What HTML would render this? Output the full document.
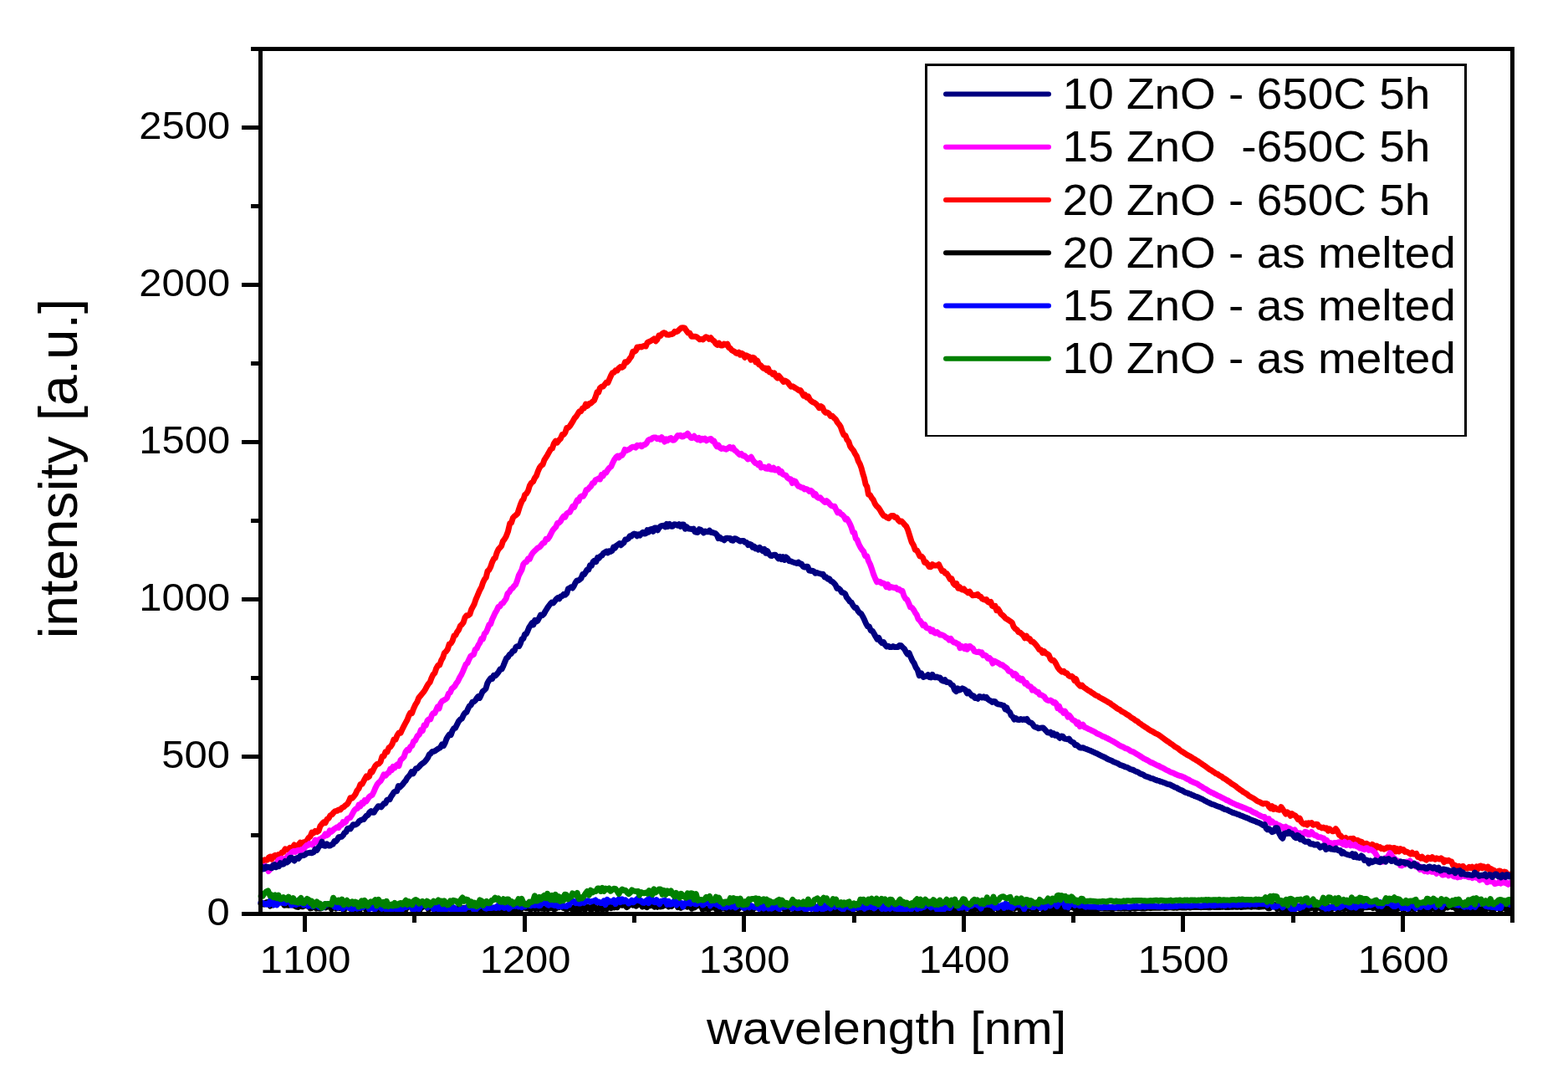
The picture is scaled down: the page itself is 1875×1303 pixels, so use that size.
<!DOCTYPE html>
<html><head><meta charset="utf-8"><title>Intensity vs wavelength</title>
<style>html,body{margin:0;padding:0;background:#fff;overflow:hidden}svg{display:block}</style>
</head><body>
<svg width="1875" height="1303" viewBox="0 0 1875 1303">
<rect x="0" y="0" width="1875" height="1303" fill="#fff"/>
<g fill="none" stroke-linejoin="round" stroke-linecap="round">
<polyline stroke="#ff0000" stroke-width="7.0" points="313.0,1028.3 314.7,1029.1 316.4,1027.8 318.1,1028.3 319.9,1027.8 321.6,1024.8 323.3,1024.0 325.0,1027.1 327.0,1023.5 329.0,1022.4 331.0,1024.8 333.0,1021.5 335.0,1022.1 337.0,1019.1 339.0,1018.4 341.0,1014.9 343.0,1015.6 345.0,1015.2 346.7,1013.3 348.4,1013.8 350.1,1013.1 351.9,1010.0 353.6,1012.6 355.3,1011.4 357.0,1009.7 359.0,1007.3 361.0,1009.7 363.0,1006.7 365.0,1006.6 367.0,1004.8 369.0,1001.5 371.0,1000.0 373.0,995.1 375.0,995.9 377.0,993.4 379.0,994.5 381.0,993.3 383.0,987.4 385.0,985.0 387.0,982.9 389.0,983.7 391.0,979.4 393.0,978.3 395.0,974.8 397.0,973.7 399.0,971.2 401.0,969.6 403.0,969.3 405.0,967.9 407.0,967.9 409.0,965.5 411.0,964.8 413.0,962.8 415.0,961.6 417.0,958.5 419.0,953.7 421.0,954.3 423.0,952.2 425.0,949.5 427.0,945.0 429.0,942.7 431.0,937.5 433.0,937.3 434.7,934.1 436.4,930.9 438.1,927.9 439.9,929.4 441.6,928.0 443.3,922.0 445.0,923.1 447.0,918.9 449.0,915.3 451.0,913.4 453.0,913.0 455.0,910.7 457.0,904.2 459.0,904.0 461.0,898.7 463.0,898.9 465.0,893.7 467.0,892.6 469.0,889.5 471.0,883.9 473.0,884.1 475.0,879.1 477.0,876.0 479.0,876.3 481.0,871.8 483.0,867.9 485.0,864.2 487.0,860.5 488.9,855.5 490.8,852.0 492.6,852.6 494.5,847.2 496.9,842.1 498.8,839.2 500.7,834.2 502.6,831.9 504.6,829.5 506.5,827.3 508.4,824.4 510.3,820.8 512.2,817.6 514.1,815.6 516.1,810.2 518.0,806.4 519.9,804.3 521.8,798.7 523.7,795.5 525.6,795.1 527.6,789.6 529.5,786.3 531.4,780.5 533.3,778.8 535.3,776.1 537.2,770.1 539.1,769.3 541.1,765.9 543.0,760.0 544.8,759.2 546.7,755.3 548.5,753.0 550.4,748.3 552.2,746.6 554.1,744.1 556.0,738.2 558.0,735.7 559.9,735.7 561.8,734.3 563.7,728.5 565.4,725.4 567.2,722.0 568.9,716.7 570.6,712.9 572.3,708.7 574.0,704.9 575.8,701.8 577.5,696.5 579.3,692.7 581.2,690.3 583.0,682.9 584.9,681.1 586.7,677.7 588.5,672.2 590.4,668.1 592.2,667.0 594.1,660.8 595.9,656.9 597.7,654.8 599.6,652.7 601.4,646.9 603.3,644.6 605.1,641.5 607.4,635.6 609.7,625.7 611.5,624.8 613.4,619.0 615.2,617.0 617.1,615.6 618.9,613.9 620.7,608.1 622.4,603.2 624.2,598.8 626.0,596.7 627.7,591.3 629.5,590.1 631.5,586.7 633.5,580.3 635.5,577.1 637.4,575.9 639.4,571.6 641.4,568.7 643.3,563.4 645.2,559.1 647.1,556.5 649.0,555.4 650.9,549.8 652.8,546.8 654.7,543.8 656.6,540.4 658.5,537.0 660.4,536.0 662.4,530.2 664.4,527.2 666.3,529.0 668.3,526.3 670.3,524.4 672.3,519.6 674.1,519.5 675.9,517.0 677.7,511.5 679.5,511.4 681.4,509.4 683.3,506.3 685.2,503.3 687.1,499.9 689.0,497.8 690.9,494.9 692.8,491.8 694.7,491.8 696.6,488.0 698.5,488.0 700.5,483.0 702.5,485.2 704.5,482.7 706.4,482.1 708.4,480.3 710.4,478.8 712.2,474.4 714.0,468.9 715.7,469.2 717.5,463.7 719.4,462.3 721.3,462.0 723.2,459.5 725.1,457.1 727.0,457.5 728.8,453.1 730.6,449.0 732.4,445.6 734.2,445.3 736.1,442.7 738.0,443.1 739.9,440.2 741.8,438.6 743.7,439.2 745.6,438.0 747.5,432.8 749.4,433.1 751.3,431.3 753.2,428.4 755.0,426.1 756.8,420.2 758.5,420.5 760.3,419.2 762.0,414.9 763.7,415.2 765.4,414.5 767.1,415.0 768.8,413.8 770.5,413.4 772.2,414.0 774.2,409.4 776.2,408.5 778.2,407.6 780.1,406.4 782.1,405.0 784.1,407.8 786.0,405.8 787.9,401.0 789.8,401.4 791.7,399.1 793.6,397.7 795.5,398.3 797.4,400.1 799.4,400.3 801.3,399.8 803.2,399.5 805.0,398.7 806.8,396.3 808.5,396.7 810.3,396.0 812.4,393.9 814.5,392.0 816.5,391.8 818.6,392.0 820.7,395.1 822.8,398.0 824.8,398.3 826.9,402.2 828.9,402.2 830.9,402.2 832.8,402.7 834.8,404.1 836.8,405.8 838.8,405.4 840.6,406.0 842.4,404.3 844.2,402.8 846.0,403.5 848.0,405.3 850.0,403.8 852.0,406.5 853.9,407.7 855.9,410.9 857.9,412.3 859.9,410.2 861.9,413.0 863.8,412.9 865.8,411.0 867.8,412.2 869.8,411.1 871.5,415.5 873.2,416.2 874.9,418.6 876.6,419.5 878.3,420.3 880.0,422.0 881.7,422.6 883.5,421.3 885.2,424.2 887.0,422.4 888.8,423.7 890.6,427.3 892.4,424.8 894.1,425.8 895.9,426.5 898.0,430.2 900.1,427.3 901.9,428.0 903.8,433.0 905.6,431.2 907.5,435.7 909.3,436.4 911.2,438.5 913.0,440.4 914.9,440.1 916.7,442.5 918.6,440.5 920.4,445.1 922.2,445.2 924.1,447.3 925.9,445.9 927.7,449.9 929.6,451.9 931.4,449.3 933.3,451.7 935.1,454.0 936.9,456.4 938.8,455.0 940.6,456.0 942.4,457.5 944.3,460.4 946.1,462.2 948.0,461.8 949.8,463.0 951.7,464.3 953.5,465.3 955.4,466.9 957.2,466.6 959.1,469.7 960.9,473.0 962.8,472.0 964.6,475.0 966.5,473.9 968.4,477.7 970.2,479.5 972.1,480.7 974.0,481.5 975.8,482.8 977.7,485.0 979.6,487.6 981.6,485.7 983.5,487.0 985.4,491.3 987.3,493.4 989.3,493.1 991.2,494.2 993.2,497.5 995.3,497.2 997.3,499.5 999.4,501.3 1001.4,505.0 1003.3,507.2 1005.2,510.2 1007.1,515.6 1009.1,520.1 1011.0,520.6 1012.9,525.7 1014.8,527.8 1016.7,533.6 1018.7,536.3 1020.6,538.7 1022.5,542.4 1024.4,545.4 1026.4,551.3 1028.3,554.7 1030.0,559.4 1031.7,565.9 1033.4,571.3 1035.1,578.9 1036.8,581.8 1038.5,591.2 1040.4,591.8 1042.4,595.2 1044.3,597.5 1046.2,602.0 1048.1,604.8 1050.1,606.6 1052.0,609.1 1054.2,613.0 1056.5,616.4 1058.7,617.2 1060.6,618.6 1062.6,619.6 1064.5,617.5 1066.4,616.4 1068.3,616.4 1070.3,618.6 1072.2,618.4 1074.1,621.8 1076.1,623.5 1078.0,623.0 1079.9,624.9 1081.8,627.4 1083.8,629.3 1085.7,633.7 1088.0,641.1 1090.2,648.1 1092.5,652.0 1094.4,657.4 1096.3,657.8 1098.1,661.0 1100.0,665.1 1101.9,665.0 1103.7,667.1 1105.6,672.4 1107.4,672.1 1109.3,674.5 1111.1,677.6 1113.0,677.8 1114.9,674.6 1116.8,675.9 1118.8,676.1 1120.7,676.1 1122.6,674.7 1124.5,678.7 1126.5,682.6 1128.4,682.4 1130.3,685.4 1132.3,685.8 1134.2,688.8 1136.1,692.4 1138.0,691.9 1140.0,697.3 1141.9,699.3 1143.8,697.6 1145.7,703.2 1147.4,701.6 1149.2,704.2 1150.9,705.0 1152.6,703.9 1154.3,706.4 1156.0,707.2 1157.8,708.7 1159.5,707.2 1161.4,710.1 1163.3,711.8 1165.2,711.3 1167.2,711.5 1169.1,710.4 1171.0,712.9 1172.7,713.2 1174.5,715.9 1176.2,716.7 1177.9,717.2 1179.6,716.5 1181.3,719.5 1183.1,720.5 1184.8,719.5 1186.5,724.3 1188.2,725.0 1190.0,724.4 1191.7,729.7 1193.4,727.9 1195.1,730.5 1196.9,733.9 1198.6,735.1 1200.5,736.9 1202.5,739.2 1204.4,740.3 1206.3,741.5 1208.3,742.9 1210.2,744.3 1212.1,749.3 1214.0,751.6 1216.0,752.7 1217.9,755.7 1219.8,756.2 1221.7,757.9 1223.6,759.5 1225.5,762.8 1227.5,760.3 1229.4,763.5 1231.3,763.5 1233.2,767.0 1235.1,767.1 1237.0,768.9 1239.0,771.1 1240.9,773.6 1242.8,776.6 1244.7,776.7 1246.6,780.4 1248.5,778.7 1250.5,780.9 1252.4,781.7 1254.3,783.3 1256.2,787.8 1257.9,789.6 1259.7,789.2 1261.4,791.3 1263.1,794.3 1264.8,797.7 1266.5,800.1 1268.3,801.8 1270.0,803.1 1271.9,802.3 1273.8,804.6 1275.8,804.8 1277.7,807.4 1279.6,808.8 1281.5,808.3 1283.2,809.9 1285.0,813.7 1286.7,811.8 1288.5,816.7 1290.2,818.5 1291.9,820.2 1293.7,819.1 1295.4,821.1 1297.1,822.3 1298.9,823.5 1300.6,824.9 1302.3,825.8 1304.0,826.7 1305.8,828.2 1307.5,829.1 1309.2,830.4 1311.0,831.5 1312.8,832.0 1314.6,833.5 1316.4,834.5 1318.1,835.4 1319.9,836.4 1321.7,837.4 1323.5,838.3 1325.3,839.5 1327.0,840.3 1328.8,841.8 1330.5,843.0 1332.2,844.1 1333.9,845.3 1335.6,846.7 1337.4,847.8 1339.1,848.5 1340.9,850.1 1342.7,851.1 1344.5,851.9 1346.3,853.3 1348.1,854.4 1349.9,855.4 1351.7,856.9 1353.5,858.3 1355.3,859.1 1357.0,860.6 1358.7,861.7 1360.4,862.5 1362.1,864.2 1363.9,865.2 1365.6,866.6 1367.3,867.7 1369.0,868.9 1370.7,869.8 1372.6,871.3 1374.5,872.5 1376.4,873.6 1378.3,874.5 1380.3,875.8 1382.2,876.8 1384.1,877.7 1386.0,878.8 1387.7,880.0 1389.4,881.3 1391.1,882.5 1392.8,883.9 1394.6,885.2 1396.3,886.3 1398.0,887.4 1399.7,888.8 1401.4,889.8 1403.3,891.2 1405.2,892.7 1407.1,893.8 1409.1,895.0 1411.0,896.9 1412.9,898.1 1414.8,899.2 1416.7,900.5 1418.4,901.6 1420.1,902.7 1421.8,903.5 1423.5,904.4 1425.3,905.5 1427.0,906.9 1428.7,907.5 1430.4,908.8 1432.1,909.6 1433.8,910.8 1435.5,912.0 1437.2,913.3 1438.9,914.4 1440.6,915.5 1442.3,916.7 1444.0,918.0 1445.7,919.4 1447.4,920.3 1449.1,921.3 1450.8,922.6 1452.5,923.6 1454.2,924.8 1456.0,925.4 1457.7,926.7 1459.4,927.7 1461.1,928.5 1462.8,930.1 1464.7,931.0 1466.6,932.2 1468.5,933.8 1470.4,934.9 1472.4,936.6 1474.3,937.7 1476.2,938.9 1478.1,940.2 1479.8,941.9 1481.5,942.8 1483.2,944.3 1484.9,945.3 1486.7,946.8 1488.4,947.6 1490.1,948.7 1491.8,949.9 1493.5,951.5 1495.4,952.5 1497.3,953.5 1499.2,954.5 1501.2,956.0 1503.1,957.4 1505.0,958.3 1506.9,959.0 1508.8,960.2 1510.6,960.9 1512.3,960.4 1514.1,960.4 1515.8,961.2 1517.6,964.5 1519.3,966.2 1521.1,963.8 1522.9,967.4 1524.7,965.5 1526.5,967.2 1528.3,967.9 1530.1,968.3 1531.9,964.6 1533.8,967.3 1535.7,970.1 1537.6,973.1 1539.5,970.9 1541.3,972.3 1543.1,975.3 1544.9,972.6 1546.7,974.3 1548.5,974.6 1550.3,976.6 1552.2,979.6 1554.2,978.2 1556.1,982.6 1558.0,984.5 1559.7,985.2 1561.5,984.2 1563.2,986.0 1565.0,983.8 1566.7,984.2 1568.5,983.6 1570.2,986.2 1572.0,985.6 1573.7,985.3 1575.5,985.5 1577.2,988.6 1579.0,988.8 1580.7,989.9 1582.5,989.1 1584.4,990.4 1586.2,989.8 1588.1,993.1 1590.0,990.9 1591.8,992.7 1593.6,993.8 1595.4,993.3 1597.2,990.6 1599.3,993.3 1601.4,998.1 1603.5,999.3 1605.6,1002.5 1607.4,1002.9 1609.2,1001.5 1611.0,1003.9 1612.8,1003.7 1614.6,1002.4 1616.4,1003.0 1618.2,1002.2 1620.0,1004.1 1621.7,1007.3 1623.4,1004.3 1625.1,1007.2 1626.9,1005.9 1628.6,1006.6 1630.3,1009.9 1632.0,1008.9 1633.8,1008.3 1635.6,1009.1 1637.4,1011.5 1639.2,1011.6 1641.0,1009.4 1642.8,1010.6 1644.6,1014.2 1646.4,1011.2 1648.2,1013.0 1650.0,1012.6 1651.7,1014.5 1653.4,1014.0 1655.1,1015.1 1656.9,1014.3 1658.6,1013.1 1660.3,1013.3 1662.0,1013.1 1663.8,1016.6 1665.6,1013.7 1667.4,1013.5 1669.2,1017.9 1671.0,1014.7 1672.8,1017.9 1674.6,1014.6 1676.4,1016.4 1678.2,1015.6 1680.0,1018.4 1681.7,1018.1 1683.4,1018.8 1685.1,1020.0 1686.9,1021.0 1688.6,1019.3 1690.3,1021.1 1692.0,1021.0 1693.7,1020.3 1695.4,1024.4 1697.1,1024.2 1698.9,1026.0 1700.6,1024.2 1702.3,1026.5 1704.0,1027.0 1705.7,1028.1 1707.5,1025.1 1709.2,1026.1 1710.9,1026.6 1712.7,1024.6 1714.4,1026.6 1716.1,1027.3 1717.9,1025.8 1719.6,1026.7 1721.4,1027.1 1723.2,1025.9 1725.0,1027.1 1726.8,1030.6 1728.6,1028.3 1730.4,1029.3 1732.2,1028.4 1734.0,1029.6 1735.7,1030.0 1737.4,1034.1 1739.1,1033.9 1740.9,1035.2 1742.6,1036.4 1744.3,1035.4 1746.0,1037.5 1747.8,1035.9 1749.6,1035.5 1751.4,1037.9 1753.2,1037.9 1755.0,1038.2 1756.8,1036.3 1758.6,1037.6 1760.4,1036.2 1762.2,1038.9 1764.0,1038.6 1765.7,1035.9 1767.4,1038.7 1769.1,1035.4 1770.9,1035.0 1772.6,1037.8 1774.3,1035.9 1776.0,1036.9 1777.7,1038.1 1779.4,1036.1 1781.1,1039.9 1782.9,1038.6 1784.6,1039.9 1786.3,1040.2 1788.0,1042.7 1789.8,1043.0 1791.6,1041.4 1793.4,1040.9 1795.2,1042.2 1797.0,1043.0 1798.8,1041.9 1800.6,1042.6 1802.4,1045.6 1804.2,1045.7 1806.0,1045.2"/>
<polyline stroke="#ff00ff" stroke-width="7.0" points="313.0,1036.5 315.0,1037.8 317.0,1035.3 319.0,1036.8 321.0,1041.5 322.8,1039.5 324.5,1037.6 326.2,1034.5 328.0,1034.3 329.8,1032.7 331.5,1031.1 333.2,1027.6 335.0,1027.3 336.8,1026.2 338.6,1026.8 340.5,1027.0 342.3,1025.9 344.1,1023.2 345.9,1021.9 347.7,1020.2 349.5,1018.3 351.4,1017.3 353.2,1018.4 355.0,1016.8 357.0,1016.3 359.0,1017.7 361.0,1015.3 363.0,1014.7 365.0,1012.4 366.7,1010.4 368.4,1010.5 370.1,1008.6 371.9,1009.1 373.6,1010.1 375.3,1007.5 377.0,1004.2 378.7,1006.2 380.4,1004.6 382.1,1003.2 383.9,1002.8 385.6,1001.0 387.3,1000.0 389.0,997.0 390.8,998.6 392.6,997.4 394.3,992.8 396.1,994.3 397.9,993.0 399.7,990.8 401.4,990.0 403.2,988.7 405.0,989.5 406.7,986.2 408.4,986.2 410.1,982.7 411.9,983.6 413.6,982.3 415.3,978.9 417.0,978.0 418.7,977.5 420.4,974.7 422.1,971.6 423.9,968.5 425.6,966.9 427.3,966.6 429.0,962.2 430.8,963.9 432.6,959.6 434.3,960.8 436.1,956.6 437.9,957.9 439.7,955.3 441.4,952.8 443.2,951.3 445.0,950.4 447.0,946.5 449.0,941.7 451.0,937.7 453.0,935.4 455.0,933.7 457.0,930.3 459.0,925.9 461.0,927.2 463.0,924.8 465.0,923.6 466.7,919.3 468.4,920.6 470.1,916.4 471.9,917.9 473.6,915.1 475.3,913.7 477.0,915.5 479.0,908.6 481.0,906.9 483.0,904.9 485.0,898.8 486.9,896.3 488.8,896.9 490.8,892.6 492.7,891.5 494.6,886.2 496.5,885.3 499.0,880.0 501.5,877.8 503.4,872.5 505.3,873.6 507.2,866.8 509.2,867.2 511.1,861.4 513.0,859.7 514.7,859.9 516.5,854.7 518.2,852.5 519.9,852.4 521.6,848.8 523.3,845.0 525.1,846.9 526.8,840.9 528.7,838.1 530.6,837.1 532.5,836.0 534.5,834.3 536.4,829.2 538.3,827.9 540.2,823.3 542.0,821.9 543.9,820.1 545.7,816.8 547.6,814.3 549.5,810.2 551.4,807.2 553.3,803.1 555.2,798.6 557.1,794.0 559.0,792.5 560.9,788.2 562.7,784.5 564.6,783.3 566.4,782.4 568.3,776.4 570.1,775.2 572.0,771.1 573.8,768.4 575.7,763.6 577.5,763.9 579.3,757.6 581.2,755.9 583.0,751.8 584.9,746.8 586.7,746.0 588.5,740.4 590.4,736.4 592.2,732.6 594.1,729.5 595.9,725.5 597.7,725.1 599.6,721.8 601.4,721.1 603.3,718.2 605.1,715.7 607.0,709.6 608.9,707.9 610.9,704.4 612.8,703.2 614.7,700.6 616.6,698.7 618.4,694.2 620.3,688.0 622.1,684.6 624.0,681.0 625.8,674.5 627.7,672.3 629.6,671.6 631.5,667.9 633.3,668.3 635.2,663.8 637.1,660.8 639.0,658.8 641.0,657.0 643.0,655.0 645.0,654.3 646.9,652.1 648.9,649.4 650.9,648.9 652.9,644.3 654.9,644.6 656.8,642.0 658.8,638.2 660.8,634.2 662.8,631.8 664.7,629.9 666.5,625.5 668.4,625.0 670.2,623.3 672.1,619.7 673.9,617.2 675.8,618.2 677.6,614.1 679.5,612.7 681.3,612.4 683.0,608.9 684.8,605.4 686.6,606.4 688.4,601.7 690.2,598.0 691.9,598.9 693.7,594.2 695.6,593.0 697.4,593.3 699.3,590.4 701.1,585.4 703.0,585.2 704.8,582.9 706.7,581.1 708.5,577.7 710.4,577.3 712.2,573.5 714.0,573.0 715.8,571.9 717.5,572.9 719.3,567.6 721.1,569.1 722.9,565.1 724.7,565.3 726.7,561.8 728.7,559.3 730.7,557.8 732.6,553.5 734.6,549.5 736.6,546.7 738.4,545.1 740.1,547.0 741.9,544.6 743.7,544.5 745.5,541.8 747.2,537.4 749.0,538.7 750.8,537.7 752.7,537.0 754.5,535.4 756.4,534.3 758.2,534.2 760.1,535.1 761.9,532.3 763.8,532.9 765.6,532.1 767.5,533.7 769.3,532.0 771.2,531.5 773.0,530.0 774.9,526.6 776.7,525.2 778.6,525.3 780.4,523.3 782.3,522.9 784.1,523.0 785.9,524.6 787.7,523.8 789.5,525.4 791.2,522.8 793.0,524.6 794.8,528.0 796.6,524.8 798.4,526.6 800.4,524.3 802.4,523.6 804.3,526.3 806.3,526.0 808.3,523.7 810.3,520.6 812.0,521.0 813.7,520.4 815.4,522.0 817.1,521.7 818.8,520.3 820.5,520.3 822.2,518.2 824.2,520.9 826.2,523.4 828.2,523.4 830.1,521.3 832.1,523.9 834.1,525.5 835.9,523.5 837.7,526.3 839.5,524.4 841.2,525.5 843.0,524.2 844.8,526.8 846.6,525.8 848.4,524.9 850.2,524.5 852.0,527.3 853.7,527.0 855.5,531.0 857.3,533.7 859.0,532.1 860.8,535.1 862.6,536.4 864.6,535.7 866.6,536.6 868.5,537.2 870.5,535.8 872.5,534.4 874.5,536.1 876.5,534.9 878.5,538.3 880.5,539.5 882.4,541.6 884.4,543.6 886.4,542.4 888.4,544.9 890.4,544.8 892.3,546.7 894.3,548.9 896.3,548.2 898.3,546.3 900.0,549.5 901.7,551.8 903.4,553.7 905.1,553.9 906.8,555.9 908.5,553.6 910.2,558.9 912.0,558.4 913.9,558.3 915.7,560.1 917.6,560.4 919.4,557.5 921.3,561.1 923.1,561.3 925.0,559.3 926.8,562.1 928.7,561.9 930.5,560.6 932.4,564.8 934.3,563.4 936.1,567.0 938.0,567.7 939.9,568.4 941.8,571.3 943.6,572.4 945.5,572.7 947.4,577.6 949.2,574.7 951.1,575.5 952.9,578.7 954.7,581.3 956.6,581.6 958.4,583.1 960.3,582.9 962.1,584.9 963.9,584.4 965.8,585.2 967.6,587.3 969.5,586.3 971.4,587.7 973.2,591.8 975.1,590.4 977.0,594.0 978.9,595.3 980.7,594.7 982.6,597.0 984.5,598.7 986.4,600.4 988.4,598.7 990.3,600.2 992.2,602.7 994.1,604.5 996.1,605.2 998.0,605.3 999.9,609.4 1001.7,612.9 1003.6,612.0 1005.5,614.4 1007.3,615.4 1009.2,617.4 1011.1,621.0 1012.9,620.2 1014.8,623.4 1016.5,626.6 1018.2,630.7 1019.9,636.3 1021.6,636.6 1023.3,643.8 1025.0,645.4 1026.9,650.3 1028.9,654.3 1030.8,657.1 1032.7,659.3 1034.6,664.7 1036.6,664.7 1038.5,670.5 1040.5,674.5 1042.5,680.2 1044.6,686.6 1046.6,691.5 1048.6,695.8 1050.5,695.1 1052.4,695.5 1054.2,697.3 1056.1,697.0 1058.0,698.0 1059.9,701.7 1061.7,698.8 1063.6,702.6 1065.5,701.5 1067.4,702.1 1069.4,702.7 1071.3,702.3 1073.2,704.7 1075.1,704.2 1077.1,706.1 1079.0,706.2 1080.9,712.2 1082.9,715.7 1084.8,717.0 1086.7,721.2 1088.6,725.8 1090.6,726.6 1092.5,728.9 1094.4,732.4 1096.3,735.1 1098.1,740.1 1100.0,741.7 1101.9,744.5 1103.8,747.7 1105.7,746.6 1107.7,750.5 1109.6,751.1 1111.5,751.4 1113.4,754.6 1115.2,753.1 1117.0,756.1 1118.8,757.0 1120.6,755.7 1122.3,757.2 1124.1,759.0 1125.9,758.7 1127.7,759.4 1129.5,760.5 1131.3,762.2 1133.2,762.8 1135.0,765.1 1136.9,763.5 1138.8,766.3 1140.6,767.9 1142.5,768.0 1144.3,769.5 1146.2,769.9 1148.0,774.7 1149.7,772.3 1151.5,773.2 1153.2,775.3 1154.9,772.5 1156.6,776.2 1158.3,772.8 1160.1,772.6 1161.8,774.3 1163.5,775.2 1165.2,778.6 1167.0,779.3 1168.7,779.6 1170.4,779.0 1172.1,780.4 1173.9,779.9 1175.6,783.4 1177.5,783.0 1179.4,784.1 1181.3,787.2 1183.3,786.6 1185.2,788.8 1187.1,793.1 1189.0,790.2 1190.9,791.2 1192.8,792.2 1194.8,793.2 1196.7,794.7 1198.6,794.7 1200.5,796.6 1202.5,797.8 1204.4,799.3 1206.3,802.4 1208.3,802.7 1210.2,804.4 1211.9,807.3 1213.7,805.4 1215.4,806.9 1217.1,811.1 1218.8,810.4 1220.5,813.1 1222.3,811.4 1224.0,814.3 1225.7,817.2 1227.5,816.4 1229.2,819.7 1230.9,820.4 1232.6,820.9 1234.3,825.0 1236.1,823.8 1237.8,825.6 1239.6,827.4 1241.5,827.2 1243.3,830.6 1245.2,830.7 1247.0,831.8 1248.8,832.8 1250.7,835.9 1252.5,837.1 1254.4,837.5 1256.2,837.0 1257.9,838.2 1259.7,840.2 1261.4,839.5 1263.1,841.2 1264.8,846.6 1266.5,844.2 1268.3,849.2 1270.0,849.5 1271.7,852.3 1273.5,850.3 1275.2,853.1 1277.0,857.0 1278.7,855.2 1280.4,857.4 1282.2,860.2 1283.9,861.2 1285.7,862.0 1287.6,865.2 1289.4,863.6 1291.3,868.4 1293.1,867.9 1294.9,866.1 1296.8,869.3 1298.6,869.8 1300.5,870.9 1302.3,871.8 1304.1,872.5 1306.0,873.6 1307.8,874.3 1309.7,875.3 1311.5,876.7 1313.3,877.5 1315.2,878.3 1317.0,879.3 1318.9,880.3 1320.7,880.8 1322.5,881.9 1324.2,882.6 1326.0,883.6 1327.7,884.5 1329.5,885.5 1331.2,886.4 1333.0,887.4 1334.7,888.5 1336.5,889.6 1338.2,890.7 1340.0,891.7 1341.9,892.5 1343.8,893.3 1345.7,894.6 1347.7,895.0 1349.6,896.0 1351.5,897.4 1353.4,898.2 1355.3,898.9 1357.0,900.0 1358.7,901.0 1360.4,902.1 1362.1,903.1 1363.9,904.1 1365.6,905.4 1367.3,906.5 1369.0,907.3 1370.7,908.3 1372.6,909.1 1374.5,910.4 1376.4,911.5 1378.3,912.0 1380.3,913.2 1382.2,914.2 1384.1,915.1 1386.0,915.7 1387.7,916.9 1389.4,917.5 1391.1,918.3 1392.8,919.4 1394.6,920.3 1396.3,921.1 1398.0,922.1 1399.7,922.9 1401.4,923.6 1403.3,924.1 1405.2,925.3 1407.1,926.1 1409.1,926.9 1411.0,927.5 1412.9,927.9 1414.8,928.8 1416.7,929.5 1418.4,930.7 1420.1,931.5 1421.8,932.1 1423.5,933.5 1425.3,934.3 1427.0,935.1 1428.7,935.7 1430.4,936.4 1432.1,937.2 1433.8,938.6 1435.5,939.6 1437.2,940.4 1438.9,941.8 1440.6,942.6 1442.3,943.5 1444.0,944.6 1445.7,945.8 1447.4,946.7 1449.1,947.6 1450.8,948.1 1452.5,949.4 1454.2,949.9 1456.0,951.2 1457.7,951.6 1459.4,952.5 1461.1,953.5 1462.8,954.2 1464.7,955.3 1466.6,956.5 1468.5,957.0 1470.4,958.3 1472.4,959.2 1474.3,960.3 1476.2,961.0 1478.1,962.0 1479.8,962.6 1481.5,963.3 1483.2,963.9 1484.9,964.5 1486.7,965.4 1488.4,965.9 1490.1,966.7 1491.8,967.5 1493.5,968.0 1495.4,968.8 1497.3,970.1 1499.2,971.2 1501.2,971.8 1503.1,973.0 1505.0,974.0 1506.9,975.1 1508.8,975.9 1510.5,976.7 1512.2,976.6 1513.9,980.3 1515.6,979.0 1517.4,978.8 1519.1,983.6 1520.8,981.6 1522.5,983.2 1524.2,984.2 1526.1,984.7 1528.0,987.5 1529.9,986.6 1531.8,987.8 1533.8,988.5 1535.7,991.1 1537.6,988.3 1539.5,991.6 1541.2,990.1 1542.9,990.7 1544.6,993.2 1546.3,992.7 1548.1,991.8 1549.8,994.7 1551.5,996.6 1553.2,995.9 1554.9,995.8 1556.8,997.1 1558.7,997.6 1560.6,994.3 1562.6,994.9 1564.5,997.8 1566.4,997.7 1568.3,994.5 1570.2,996.7 1572.0,998.7 1573.9,998.6 1575.7,1000.3 1577.6,1000.8 1579.4,1000.7 1581.2,1001.7 1582.9,1002.0 1584.7,1005.7 1586.5,1004.4 1588.2,1007.5 1590.0,1007.5 1591.8,1007.7 1593.6,1010.1 1595.4,1007.5 1597.2,1007.9 1599.0,1007.5 1600.8,1006.7 1602.6,1006.8 1604.4,1008.1 1606.2,1009.4 1608.0,1006.2 1609.8,1010.4 1611.6,1009.7 1613.4,1007.5 1615.2,1010.8 1617.0,1010.0 1618.8,1010.9 1620.6,1009.6 1622.4,1011.9 1624.2,1012.4 1626.0,1014.0 1627.8,1013.8 1629.6,1014.9 1631.4,1015.6 1633.2,1014.0 1635.0,1013.7 1636.8,1016.3 1638.6,1015.4 1640.4,1016.0 1642.2,1017.4 1644.0,1019.0 1646.1,1022.6 1648.2,1026.0 1650.3,1030.6 1652.4,1030.2 1654.3,1030.1 1656.2,1025.9 1658.2,1026.3 1660.1,1023.1 1662.0,1019.6 1663.8,1022.0 1665.6,1025.2 1667.4,1026.0 1669.2,1029.8 1671.0,1028.8 1672.8,1030.4 1674.6,1034.6 1676.4,1034.9 1678.3,1031.5 1680.2,1033.3 1682.2,1030.2 1684.1,1031.6 1686.0,1029.0 1687.7,1031.1 1689.4,1032.9 1691.1,1032.6 1692.9,1035.9 1694.6,1033.2 1696.3,1035.9 1698.0,1039.5 1699.8,1036.3 1701.6,1039.7 1703.4,1041.6 1705.2,1040.9 1707.0,1042.0 1708.8,1039.0 1710.6,1041.5 1712.4,1042.3 1714.2,1042.0 1716.0,1042.4 1717.8,1044.3 1719.6,1041.8 1721.4,1041.5 1723.2,1044.2 1725.0,1046.1 1726.8,1045.7 1728.6,1045.2 1730.4,1043.8 1732.2,1046.7 1734.0,1043.2 1735.8,1044.4 1737.6,1047.2 1739.4,1048.0 1741.2,1046.2 1743.0,1048.8 1744.8,1045.6 1746.6,1048.1 1748.4,1046.2 1750.2,1047.3 1752.0,1047.4 1753.7,1046.6 1755.4,1048.4 1757.1,1048.8 1758.9,1047.8 1760.6,1049.5 1762.3,1046.8 1764.0,1048.9 1765.8,1049.4 1767.6,1049.3 1769.4,1052.1 1771.2,1049.1 1773.0,1050.9 1774.8,1051.5 1776.6,1051.6 1778.4,1054.7 1780.2,1053.4 1782.0,1053.7 1783.8,1053.6 1785.6,1053.9 1787.4,1056.5 1789.2,1056.1 1791.0,1055.7 1792.8,1053.9 1794.6,1056.1 1796.4,1054.4 1798.2,1055.1 1799.9,1053.5 1801.7,1056.3 1803.5,1057.3 1805.2,1055.6 1807.0,1054.8"/>
<polyline stroke="#000080" stroke-width="7.0" points="313.0,1035.9 314.7,1038.9 316.4,1038.4 318.1,1036.0 319.9,1036.9 321.6,1036.6 323.3,1037.3 325.0,1037.8 326.7,1034.3 328.4,1033.6 330.1,1036.7 331.9,1034.5 333.6,1035.5 335.3,1031.7 337.0,1033.3 339.0,1033.0 341.0,1029.4 343.0,1031.0 345.0,1029.4 346.7,1025.4 348.4,1025.2 350.1,1027.4 351.9,1029.0 353.6,1026.4 355.3,1025.5 357.0,1026.3 359.0,1023.3 361.0,1022.9 363.0,1022.6 365.0,1021.6 367.0,1020.0 369.0,1019.6 371.0,1019.2 373.0,1019.8 375.0,1018.7 377.0,1015.1 379.0,1016.3 381.0,1012.6 383.0,1010.6 385.0,1006.2 387.0,1010.8 389.0,1011.2 391.0,1008.9 393.0,1010.9 394.7,1011.1 396.4,1009.7 398.1,1009.2 399.9,1005.5 401.6,1005.9 403.3,1003.8 405.0,1000.7 406.8,1000.5 408.5,1000.3 410.2,998.6 412.0,995.6 413.8,994.5 415.5,990.6 417.2,990.0 419.0,990.9 420.8,988.0 422.5,985.7 424.2,986.1 426.0,985.5 427.8,984.2 429.5,981.6 431.2,980.7 433.0,979.7 434.8,979.6 436.6,977.1 438.3,975.2 440.1,974.3 441.9,971.0 443.7,969.7 445.4,971.3 447.2,971.2 449.0,968.1 450.7,966.0 452.4,963.7 454.1,964.0 455.8,964.8 457.5,962.6 459.2,960.4 460.9,960.5 462.6,956.5 464.3,955.8 466.0,955.7 467.7,952.1 469.5,949.6 471.2,946.8 472.9,946.0 474.6,945.8 476.4,939.6 478.1,941.0 479.9,939.2 481.6,937.5 483.4,934.9 485.1,933.2 486.9,929.9 488.6,928.1 490.4,925.9 492.1,922.7 493.9,924.8 495.7,921.9 497.4,918.7 499.2,918.5 501.0,916.8 502.7,914.7 504.5,913.1 506.3,912.0 508.1,910.4 509.8,908.3 511.6,905.7 513.4,901.8 515.2,900.7 516.9,898.5 518.7,898.3 520.5,897.5 522.5,896.0 524.5,894.8 526.5,893.7 528.5,890.0 530.5,891.4 532.2,888.2 534.0,883.1 535.7,880.3 537.5,877.8 539.2,878.5 540.9,873.8 542.7,870.7 544.4,870.4 546.4,866.4 548.4,862.4 550.4,860.1 552.4,858.9 554.4,854.5 556.1,852.2 557.9,851.3 559.6,847.3 561.4,843.9 563.1,842.9 564.9,839.2 566.6,839.0 568.3,837.5 570.0,834.7 571.8,832.6 573.5,834.4 575.2,830.9 577.1,826.6 579.0,825.2 581.0,823.1 582.9,816.5 584.8,813.4 586.7,810.9 588.6,811.5 590.5,807.2 592.5,807.7 594.4,805.6 596.3,803.1 598.2,799.8 600.0,799.9 601.9,795.9 603.7,791.4 605.6,786.9 607.4,785.6 609.3,782.5 611.2,781.4 613.1,778.4 615.1,777.8 617.0,773.4 618.9,772.5 620.6,772.6 622.3,769.3 624.1,763.9 625.8,763.5 627.5,758.2 629.2,758.0 631.0,754.3 632.7,749.9 634.4,747.5 636.2,744.7 637.9,746.8 639.6,741.4 641.3,743.1 643.0,742.0 644.8,738.5 646.5,735.1 648.4,735.8 650.3,734.0 652.2,730.5 654.2,727.3 656.1,724.5 658.0,722.0 659.8,720.1 661.6,720.9 663.4,718.6 665.2,716.2 667.0,714.6 668.8,715.8 670.6,712.9 672.4,712.5 674.2,710.4 675.9,711.1 677.7,709.5 679.4,703.9 681.1,703.0 682.8,701.8 684.5,703.0 686.3,700.4 688.0,696.7 689.8,694.1 691.5,694.1 693.3,692.7 695.0,691.1 696.8,686.5 698.6,686.8 700.3,683.9 702.1,680.9 703.8,681.1 705.6,675.7 707.4,676.1 709.2,671.5 711.0,670.1 712.8,671.6 714.5,666.7 716.3,667.3 718.1,664.8 719.9,664.1 721.6,661.2 723.4,660.2 725.1,659.1 726.8,660.8 728.5,658.7 730.3,659.4 732.0,658.3 733.7,654.1 735.4,655.1 737.2,652.2 738.9,651.1 740.7,649.7 742.5,651.7 744.3,649.9 746.0,648.6 747.8,645.0 749.6,644.7 751.4,643.9 753.2,640.7 754.9,641.1 756.7,639.1 758.4,638.1 760.1,638.4 761.8,640.7 763.6,638.9 765.3,640.0 767.0,637.5 768.7,636.3 770.5,638.1 772.2,637.8 774.0,633.7 775.8,636.0 777.6,632.8 779.4,632.4 781.1,635.2 782.9,630.9 784.7,631.1 786.5,633.8 788.3,630.8 790.1,628.8 791.9,628.4 793.6,628.2 795.4,629.8 797.2,626.4 799.0,629.3 800.8,626.4 802.6,629.2 804.5,629.2 806.3,626.8 808.2,626.9 810.0,628.1 811.9,626.7 813.7,629.4 815.6,627.0 817.4,627.1 819.4,632.2 821.4,630.0 823.3,632.1 825.3,632.2 827.3,632.4 829.3,632.1 831.0,635.9 832.8,636.3 834.5,636.4 836.2,632.7 838.0,633.3 839.7,635.2 841.5,636.9 843.2,635.1 844.9,635.8 846.7,635.8 848.4,634.1 850.2,636.4 852.0,636.5 853.7,637.2 855.5,637.6 857.3,639.5 859.0,643.6 860.8,642.3 862.6,644.3 864.3,644.3 866.1,645.8 867.8,643.4 869.5,643.2 871.3,643.4 873.0,643.4 874.8,645.9 876.5,646.2 878.2,643.7 880.0,644.0 881.7,645.0 883.5,646.1 885.4,647.1 887.2,646.4 889.1,646.4 890.9,648.3 892.8,648.5 894.6,651.5 896.5,650.3 898.3,651.2 900.0,654.2 901.7,653.1 903.4,655.8 905.1,655.0 906.8,657.1 908.5,654.4 910.2,656.4 912.1,658.6 914.0,656.4 915.8,661.2 917.7,658.7 919.6,662.3 921.5,664.2 923.3,664.4 925.2,663.2 927.1,663.2 928.9,665.4 930.8,667.7 932.6,665.4 934.5,668.5 936.3,665.6 938.2,669.4 940.0,666.0 941.9,667.7 943.7,670.8 945.6,670.8 947.4,671.7 949.2,672.3 951.1,672.8 952.9,673.5 954.7,672.2 956.6,674.2 958.4,674.0 960.3,677.3 962.1,678.1 963.9,677.2 965.8,677.3 967.6,682.1 969.4,682.4 971.3,682.2 973.1,683.0 975.0,685.3 976.8,684.5 978.7,685.2 980.5,685.8 982.4,686.4 984.2,686.3 986.1,689.9 987.9,689.8 989.8,692.2 991.6,691.7 993.5,694.6 995.4,695.4 997.2,697.0 999.1,699.3 1001.0,703.5 1002.8,703.3 1004.7,705.0 1006.6,708.1 1008.6,708.6 1010.5,709.7 1012.4,714.2 1014.3,716.3 1016.3,719.1 1018.2,720.3 1020.1,723.8 1022.1,726.4 1024.0,726.6 1025.9,730.2 1027.8,732.5 1029.8,733.8 1031.7,737.0 1033.6,740.8 1035.6,745.5 1037.5,748.7 1039.4,749.0 1041.3,753.8 1043.3,754.3 1045.2,757.5 1047.1,761.0 1049.0,764.1 1050.8,762.4 1052.7,766.6 1054.6,768.6 1056.5,767.6 1058.3,770.7 1060.2,772.9 1062.1,772.3 1064.0,773.5 1066.0,773.5 1067.9,772.6 1069.8,773.5 1071.7,773.4 1073.7,773.5 1075.6,771.5 1077.5,771.7 1079.5,774.0 1081.4,775.7 1083.3,779.2 1085.2,782.0 1087.2,780.8 1089.1,785.5 1091.1,790.0 1093.1,792.8 1095.2,797.9 1097.2,800.7 1099.2,807.6 1101.7,804.9 1104.2,809.4 1106.0,808.8 1107.8,808.1 1109.6,806.6 1111.4,809.6 1113.1,809.9 1114.9,806.4 1116.7,809.4 1118.5,809.8 1120.3,809.1 1122.2,810.2 1124.1,810.1 1126.0,813.2 1128.0,814.3 1129.9,812.7 1131.8,815.5 1133.7,815.6 1135.7,816.2 1137.6,818.6 1139.5,819.5 1141.5,824.7 1143.4,826.6 1145.2,822.9 1147.1,825.0 1148.9,824.2 1150.8,822.9 1152.6,823.7 1154.5,825.0 1156.4,828.8 1158.3,827.0 1160.3,829.4 1162.2,832.0 1164.1,831.7 1165.8,834.4 1167.5,834.3 1169.3,835.3 1171.0,832.5 1172.7,832.9 1174.5,834.0 1176.2,832.8 1177.9,834.2 1179.6,833.4 1181.4,836.0 1183.1,837.2 1184.8,838.0 1186.5,839.4 1188.2,838.3 1190.0,838.7 1191.7,841.1 1193.4,841.8 1195.2,842.1 1196.9,842.4 1198.6,843.1 1200.3,843.5 1202.0,847.8 1203.8,845.9 1205.5,849.8 1207.4,851.2 1209.2,855.3 1211.1,856.7 1212.9,860.0 1214.8,858.6 1216.7,860.3 1218.6,860.6 1220.5,859.5 1222.5,860.4 1224.4,859.8 1226.3,860.6 1228.0,859.4 1229.8,862.5 1231.5,863.7 1233.2,864.1 1234.9,865.7 1236.6,868.5 1238.4,869.2 1240.1,869.5 1241.9,870.8 1243.7,870.2 1245.5,870.1 1247.3,869.9 1249.0,871.7 1250.8,873.7 1252.6,875.6 1254.4,876.0 1256.2,875.2 1258.0,878.2 1259.9,876.7 1261.7,879.1 1263.6,878.0 1265.4,880.3 1267.2,882.2 1269.1,880.0 1270.9,880.2 1272.8,883.0 1274.6,883.4 1276.4,883.7 1278.3,883.1 1280.1,885.7 1282.0,886.9 1283.8,887.7 1285.7,890.7 1287.5,890.5 1289.4,892.1 1291.2,893.8 1293.1,894.1 1294.9,893.7 1296.8,894.7 1298.6,895.3 1300.5,896.1 1302.3,896.8 1304.1,897.4 1306.0,898.3 1307.8,899.1 1309.7,900.0 1311.5,900.7 1313.2,901.6 1315.0,902.5 1316.8,903.5 1318.5,904.2 1320.2,905.0 1322.0,905.8 1323.8,907.0 1325.6,907.9 1327.4,908.6 1329.2,909.2 1331.0,910.5 1332.8,911.1 1334.6,911.9 1336.4,912.5 1338.2,913.7 1340.0,914.7 1341.9,915.2 1343.8,915.9 1345.7,916.9 1347.7,917.2 1349.6,918.3 1351.5,919.4 1353.4,920.0 1355.3,920.5 1357.0,921.6 1358.7,922.4 1360.4,922.9 1362.1,923.8 1363.9,925.1 1365.6,925.5 1367.3,926.2 1369.0,927.6 1370.7,928.2 1372.6,928.8 1374.5,929.6 1376.4,930.4 1378.3,930.7 1380.3,931.7 1382.2,932.4 1384.1,933.1 1386.0,933.4 1387.7,934.3 1389.4,934.6 1391.1,935.4 1392.8,935.8 1394.6,936.8 1396.3,937.4 1398.0,937.7 1399.7,938.2 1401.4,939.3 1403.3,940.1 1405.2,941.2 1407.1,941.6 1409.1,943.1 1411.0,943.9 1412.9,944.7 1414.8,945.7 1416.7,946.9 1418.4,947.6 1420.1,947.9 1421.8,948.8 1423.5,949.2 1425.3,950.4 1427.0,950.7 1428.7,951.7 1430.4,952.3 1432.1,952.9 1433.8,953.5 1435.5,954.5 1437.2,955.1 1438.9,956.0 1440.6,957.2 1442.3,957.8 1444.0,959.0 1445.7,959.5 1447.4,960.6 1449.1,961.3 1450.8,961.7 1452.5,962.3 1454.2,963.1 1456.0,963.9 1457.7,964.3 1459.4,965.0 1461.1,965.6 1462.8,966.7 1464.7,967.6 1466.6,967.9 1468.5,968.6 1470.4,969.8 1472.4,970.6 1474.3,971.5 1476.2,972.0 1478.1,972.6 1479.8,973.6 1481.5,973.8 1483.2,974.9 1484.9,975.2 1486.7,976.1 1488.4,976.8 1490.1,977.4 1491.8,978.0 1493.5,978.7 1495.4,979.9 1497.3,980.4 1499.2,981.2 1501.2,981.8 1503.1,982.9 1505.0,983.4 1506.9,984.3 1508.8,985.3 1510.6,986.6 1512.3,985.6 1514.1,990.3 1515.8,991.8 1517.6,990.8 1519.3,992.4 1521.1,994.6 1523.2,994.0 1525.2,989.7 1527.3,989.8 1529.6,996.1 1531.9,1000.4 1533.8,1002.2 1535.7,996.7 1537.6,995.8 1539.5,996.5 1541.2,994.5 1542.9,996.6 1544.6,996.2 1546.3,998.3 1548.1,1000.7 1549.8,1001.7 1551.5,998.5 1553.2,999.3 1554.9,1003.4 1556.9,1001.9 1559.0,1005.0 1561.0,1006.3 1562.8,1006.2 1564.7,1005.9 1566.5,1008.6 1568.4,1009.1 1570.2,1008.8 1571.9,1010.1 1573.6,1009.9 1575.3,1009.3 1577.0,1011.0 1578.8,1013.1 1580.5,1012.3 1582.2,1011.1 1583.9,1011.0 1585.6,1015.4 1587.7,1014.3 1589.8,1013.6 1591.9,1015.1 1594.0,1015.3 1595.8,1015.7 1597.5,1014.2 1599.3,1016.1 1601.0,1016.9 1602.8,1016.5 1604.6,1020.1 1606.3,1018.7 1608.1,1020.3 1609.8,1021.1 1611.6,1021.8 1613.4,1022.1 1615.2,1022.6 1617.0,1020.8 1618.8,1024.4 1620.6,1021.2 1622.4,1025.0 1624.2,1025.1 1626.0,1025.5 1627.8,1023.0 1629.7,1024.2 1631.5,1028.4 1633.3,1027.9 1635.1,1028.4 1637.0,1032.1 1638.8,1029.0 1640.7,1030.8 1642.5,1030.1 1644.4,1028.4 1646.3,1029.2 1648.1,1030.2 1650.0,1030.7 1651.8,1026.8 1653.5,1029.0 1655.2,1027.0 1657.0,1030.1 1658.8,1026.9 1660.5,1026.6 1662.2,1028.1 1664.0,1029.5 1665.8,1028.1 1667.7,1027.6 1669.5,1030.9 1671.3,1031.4 1673.2,1031.9 1675.0,1029.9 1676.8,1030.8 1678.7,1030.4 1680.5,1032.1 1682.3,1031.5 1684.2,1031.9 1686.0,1034.2 1687.7,1035.3 1689.4,1034.0 1691.1,1032.3 1692.8,1035.0 1694.5,1034.4 1696.2,1037.1 1697.9,1036.3 1699.6,1037.1 1701.3,1036.9 1703.0,1036.5 1704.7,1038.3 1706.5,1038.3 1708.2,1036.3 1709.9,1036.0 1711.6,1037.2 1713.4,1038.1 1715.1,1036.6 1716.8,1037.9 1718.5,1039.2 1720.3,1037.2 1722.0,1040.9 1723.8,1040.4 1725.6,1039.1 1727.5,1039.3 1729.3,1039.8 1731.1,1039.9 1732.9,1042.0 1734.7,1041.1 1736.5,1041.4 1738.4,1040.0 1740.2,1043.6 1742.0,1041.2 1743.8,1041.5 1745.6,1040.6 1747.4,1044.9 1749.2,1042.9 1751.0,1045.1 1752.8,1045.4 1754.6,1045.8 1756.4,1045.4 1758.2,1046.1 1760.0,1046.4 1761.8,1046.0 1763.5,1043.1 1765.2,1045.0 1767.0,1045.3 1768.8,1047.3 1770.5,1046.5 1772.2,1046.3 1774.0,1046.6 1775.8,1045.0 1777.5,1047.7 1779.2,1046.5 1781.0,1045.6 1782.7,1046.0 1784.5,1048.4 1786.2,1046.5 1787.9,1045.1 1789.7,1045.1 1791.4,1047.6 1793.1,1047.2 1794.9,1048.9 1796.6,1045.8 1798.3,1046.9 1800.1,1048.5 1801.8,1045.6 1803.5,1046.0 1805.3,1048.1 1807.0,1048.0"/>
<polyline stroke="#000000" stroke-width="7.0" points="312.0,1080.6 313.9,1079.5 315.7,1081.0 317.6,1079.3 319.4,1078.5 321.3,1080.2 323.1,1083.0 325.0,1082.0 326.9,1081.7 328.8,1078.4 330.6,1080.2 332.5,1078.6 334.4,1077.9 336.2,1077.5 338.1,1078.0 340.0,1082.3 341.8,1081.9 343.6,1082.1 345.5,1082.3 347.3,1079.0 349.1,1079.9 350.9,1082.1 352.7,1083.0 354.5,1084.0 356.4,1084.4 358.2,1079.9 360.0,1083.3 361.8,1083.8 363.6,1082.9 365.5,1081.0 367.3,1082.9 369.1,1080.7 370.9,1085.9 372.7,1085.5 374.5,1083.7 376.4,1082.3 378.2,1086.1 380.0,1084.1 381.8,1086.1 383.6,1086.1 385.5,1084.2 387.3,1083.7 389.1,1085.0 390.9,1084.1 392.7,1082.6 394.5,1083.6 396.4,1086.8 398.2,1082.3 400.0,1082.5 401.9,1086.0 403.8,1083.9 405.6,1085.5 407.5,1085.2 409.4,1084.4 411.2,1088.4 413.1,1083.6 415.0,1084.9 416.9,1083.7 418.8,1086.3 420.6,1084.2 422.5,1084.7 424.4,1087.1 426.2,1084.6 428.1,1086.0 430.0,1088.1 431.9,1083.3 433.8,1083.0 435.6,1084.0 437.5,1087.2 439.4,1086.2 441.2,1083.9 443.1,1084.5 445.0,1083.5 446.9,1085.2 448.8,1082.6 450.6,1086.5 452.5,1087.7 454.4,1088.0 456.2,1086.7 458.1,1088.0 460.0,1082.3 461.9,1084.0 463.8,1088.1 465.6,1087.0 467.5,1084.9 469.4,1088.2 471.2,1086.3 473.1,1087.5 475.0,1084.5 476.9,1083.9 478.8,1085.5 480.6,1083.7 482.5,1085.2 484.4,1088.8 486.2,1085.1 488.1,1083.2 490.0,1083.5 491.9,1084.2 493.8,1087.9 495.6,1085.4 497.5,1084.9 499.4,1083.8 501.2,1089.1 503.1,1085.7 505.0,1084.4 506.9,1083.6 508.8,1083.5 510.6,1084.2 512.5,1087.3 514.4,1084.1 516.2,1083.4 518.1,1086.1 520.0,1084.7 521.8,1089.2 523.6,1084.0 525.5,1086.5 527.3,1088.0 529.1,1085.9 530.9,1089.4 532.7,1086.4 534.5,1085.0 536.4,1086.1 538.2,1083.9 540.0,1086.2 541.8,1085.2 543.6,1089.1 545.5,1088.8 547.3,1086.9 549.1,1084.1 550.9,1085.5 552.7,1085.5 554.5,1085.3 556.4,1085.5 558.2,1089.4 560.0,1085.1 561.8,1084.5 563.6,1089.8 565.5,1087.6 567.3,1090.1 569.1,1086.6 570.9,1089.6 572.7,1088.1 574.5,1088.9 576.4,1088.7 578.2,1087.2 580.0,1084.8 581.8,1085.5 583.6,1089.4 585.5,1089.6 587.3,1089.7 589.1,1086.2 590.9,1088.1 592.7,1089.0 594.5,1088.1 596.4,1089.1 598.2,1087.4 600.0,1088.1 601.8,1088.2 603.6,1085.5 605.5,1089.3 607.3,1089.4 609.1,1084.0 610.9,1089.2 612.7,1089.0 614.5,1087.1 616.4,1083.2 618.2,1088.2 620.0,1083.5 621.8,1088.4 623.6,1086.4 625.5,1082.7 627.3,1083.2 629.1,1085.8 630.9,1085.3 632.7,1086.2 634.5,1087.2 636.4,1082.8 638.2,1081.4 640.0,1086.7 641.9,1081.3 643.8,1086.5 645.6,1082.0 647.5,1086.2 649.4,1086.1 651.2,1086.7 653.1,1084.7 655.0,1086.7 656.9,1082.7 658.8,1085.5 660.6,1083.5 662.5,1086.9 664.4,1086.2 666.2,1084.5 668.1,1084.8 670.0,1081.9 671.8,1082.0 673.6,1085.5 675.5,1085.0 677.3,1087.4 679.1,1086.0 680.9,1083.4 682.7,1084.8 684.5,1087.4 686.4,1086.1 688.2,1083.1 690.0,1088.2 691.9,1088.1 693.8,1083.6 695.6,1086.3 697.5,1085.2 699.4,1087.6 701.2,1084.7 703.1,1084.2 705.0,1085.6 706.9,1088.4 708.8,1083.1 710.6,1083.2 712.5,1086.2 714.4,1087.7 716.2,1085.4 718.1,1084.9 720.0,1087.3 721.8,1086.6 723.6,1082.1 725.5,1086.7 727.3,1082.3 729.1,1082.7 730.9,1085.6 732.7,1082.8 734.5,1084.8 736.4,1080.7 738.2,1084.7 740.0,1080.3 741.9,1080.1 743.8,1082.1 745.6,1081.1 747.5,1082.3 749.4,1084.5 751.2,1083.3 753.1,1079.0 755.0,1080.8 756.9,1082.2 758.8,1081.8 760.6,1083.1 762.5,1081.7 764.4,1079.2 766.2,1080.2 768.1,1083.8 770.0,1080.8 771.8,1083.3 773.6,1084.6 775.5,1082.5 777.3,1082.8 779.1,1082.4 780.9,1080.6 782.7,1084.2 784.5,1081.5 786.4,1084.2 788.2,1080.5 790.0,1083.9 791.9,1083.5 793.8,1082.6 795.6,1081.6 797.5,1079.9 799.4,1083.8 801.2,1081.4 803.1,1083.3 805.0,1080.2 806.9,1080.0 808.8,1080.5 810.6,1084.6 812.5,1080.9 814.4,1085.3 816.2,1082.2 818.1,1083.6 820.0,1082.3 821.8,1084.0 823.6,1080.9 825.5,1082.9 827.3,1086.2 829.1,1081.7 830.9,1084.7 832.7,1082.8 834.5,1082.7 836.4,1081.2 838.2,1081.2 840.0,1086.9 841.9,1086.2 843.8,1086.1 845.6,1086.2 847.5,1087.2 849.4,1082.5 851.2,1085.1 853.1,1084.6 855.0,1085.1 856.9,1087.4 858.8,1086.4 860.6,1087.7 862.5,1082.7 864.4,1085.9 866.2,1086.1 868.1,1086.6 870.0,1085.9 871.9,1087.2 873.8,1084.1 875.6,1087.9 877.5,1084.8 879.4,1086.0 881.2,1087.8 883.1,1086.6 885.0,1084.3 886.9,1083.9 888.8,1084.5 890.6,1086.3 892.5,1088.6 894.4,1088.0 896.2,1085.0 898.1,1085.1 900.0,1087.6 901.9,1084.4 903.7,1085.2 905.6,1082.8 907.4,1083.9 909.3,1086.0 911.1,1087.0 913.0,1086.5 914.8,1085.0 916.7,1088.6 918.5,1086.6 920.4,1083.8 922.2,1083.3 924.1,1088.8 925.9,1088.9 927.8,1088.5 929.6,1086.6 931.5,1084.9 933.3,1083.6 935.2,1084.6 937.0,1084.4 938.9,1088.7 940.7,1088.5 942.6,1087.8 944.4,1084.0 946.3,1084.6 948.1,1085.0 950.0,1088.9 951.9,1084.2 953.7,1087.9 955.6,1087.3 957.4,1086.5 959.3,1089.0 961.1,1084.8 963.0,1086.3 964.8,1084.1 966.7,1083.8 968.5,1083.4 970.4,1085.1 972.2,1083.9 974.1,1083.6 975.9,1089.2 977.8,1084.9 979.6,1088.5 981.5,1087.4 983.3,1087.6 985.2,1087.1 987.0,1088.9 988.9,1088.5 990.7,1087.5 992.6,1086.6 994.4,1087.4 996.3,1087.5 998.1,1086.5 1000.0,1086.2 1001.9,1084.1 1003.7,1088.3 1005.6,1086.1 1007.4,1083.6 1009.3,1084.2 1011.1,1088.4 1013.0,1084.7 1014.8,1085.5 1016.7,1087.3 1018.5,1088.4 1020.4,1085.2 1022.2,1085.5 1024.1,1085.7 1025.9,1083.4 1027.8,1088.5 1029.6,1083.3 1031.5,1089.0 1033.3,1084.1 1035.2,1084.1 1037.0,1088.3 1038.9,1088.1 1040.7,1084.6 1042.6,1086.5 1044.4,1086.1 1046.3,1087.5 1048.1,1084.3 1050.0,1088.2 1051.9,1089.2 1053.7,1087.4 1055.6,1088.7 1057.4,1088.8 1059.3,1085.5 1061.1,1088.3 1063.0,1088.2 1064.8,1086.7 1066.7,1083.8 1068.5,1086.9 1070.4,1088.7 1072.2,1085.0 1074.1,1087.1 1075.9,1088.6 1077.8,1086.8 1079.6,1083.4 1081.5,1087.0 1083.3,1084.7 1085.2,1088.3 1087.0,1087.2 1088.9,1085.0 1090.7,1088.6 1092.6,1087.0 1094.4,1085.2 1096.3,1088.2 1098.1,1088.5 1100.0,1088.6 1101.9,1088.5 1103.7,1087.2 1105.6,1087.4 1107.4,1086.8 1109.3,1086.4 1111.1,1089.1 1113.0,1085.3 1114.8,1083.7 1116.7,1087.5 1118.5,1086.2 1120.4,1086.5 1122.2,1086.8 1124.1,1084.7 1125.9,1084.4 1127.8,1083.6 1129.6,1087.9 1131.5,1088.7 1133.3,1087.4 1135.2,1083.9 1137.0,1089.1 1138.9,1088.2 1140.7,1086.3 1142.6,1083.2 1144.4,1088.3 1146.3,1086.9 1148.1,1086.9 1150.0,1083.3 1151.9,1087.6 1153.7,1083.4 1155.6,1086.1 1157.4,1084.1 1159.3,1085.4 1161.1,1088.5 1163.0,1087.7 1164.8,1088.1 1166.7,1085.0 1168.5,1085.5 1170.4,1086.8 1172.2,1083.4 1174.1,1085.7 1175.9,1089.0 1177.8,1087.7 1179.6,1088.4 1181.5,1085.0 1183.3,1087.3 1185.2,1087.9 1187.0,1087.4 1188.9,1085.8 1190.7,1084.2 1192.6,1083.3 1194.4,1088.5 1196.3,1088.8 1198.1,1084.9 1200.0,1087.7 1201.9,1085.6 1203.7,1087.0 1205.6,1088.3 1207.4,1085.1 1209.3,1086.9 1211.1,1084.7 1213.0,1086.3 1214.8,1083.4 1216.7,1084.8 1218.5,1084.9 1220.4,1088.7 1222.2,1084.0 1224.1,1087.7 1225.9,1083.7 1227.8,1089.1 1229.6,1084.2 1231.5,1083.8 1233.3,1084.5 1235.2,1088.8 1237.0,1087.2 1238.9,1088.5 1240.7,1086.2 1242.6,1083.9 1244.4,1085.2 1246.3,1085.9 1248.1,1089.1 1250.0,1084.2 1251.9,1084.7 1253.7,1088.3 1255.6,1083.9 1257.4,1089.1 1259.3,1085.0 1261.1,1086.7 1263.0,1087.2 1264.8,1088.7 1266.7,1083.8 1268.5,1088.4 1270.4,1084.4 1272.2,1087.6 1274.1,1083.5 1275.9,1088.0 1277.8,1084.5 1279.6,1084.6 1281.5,1083.6 1283.3,1085.3 1285.2,1085.4 1287.0,1089.3 1288.9,1087.1 1290.7,1085.6 1292.6,1089.4 1294.4,1084.5 1296.3,1086.2 1298.1,1086.9 1300.0,1086.9 1301.9,1086.6 1303.7,1086.9 1305.6,1086.0 1307.4,1086.8 1309.3,1086.6 1311.1,1086.5 1313.0,1086.7 1314.8,1086.0 1316.7,1086.1 1318.5,1086.0 1320.4,1086.3 1322.2,1086.3 1324.1,1086.3 1325.9,1086.1 1327.8,1086.4 1329.6,1086.5 1331.5,1086.4 1333.3,1085.8 1335.2,1085.8 1337.0,1085.9 1338.9,1085.9 1340.7,1086.2 1342.6,1085.8 1344.4,1086.2 1346.3,1085.9 1348.1,1085.9 1350.0,1086.2 1351.9,1086.4 1353.7,1085.6 1355.6,1085.8 1357.4,1086.3 1359.3,1085.6 1361.1,1085.4 1363.0,1085.5 1364.8,1086.0 1366.7,1085.9 1368.5,1086.0 1370.4,1085.6 1372.2,1085.1 1374.1,1085.3 1375.9,1085.7 1377.8,1085.3 1379.6,1085.1 1381.5,1085.3 1383.3,1085.3 1385.2,1085.2 1387.0,1085.2 1388.9,1084.9 1390.7,1084.8 1392.6,1085.4 1394.4,1085.3 1396.3,1085.0 1398.1,1084.7 1400.0,1084.8 1401.8,1085.0 1403.6,1085.3 1405.5,1084.9 1407.3,1085.3 1409.1,1084.9 1410.9,1084.6 1412.7,1084.9 1414.5,1084.9 1416.4,1084.9 1418.2,1085.0 1420.0,1084.3 1421.8,1084.7 1423.6,1085.0 1425.5,1084.4 1427.3,1084.2 1429.1,1084.4 1430.9,1084.4 1432.7,1084.5 1434.5,1084.4 1436.4,1084.7 1438.2,1084.2 1440.0,1084.4 1441.8,1084.6 1443.6,1084.5 1445.5,1084.8 1447.3,1084.8 1449.1,1084.2 1450.9,1084.2 1452.7,1084.4 1454.5,1084.4 1456.4,1084.2 1458.2,1084.6 1460.0,1084.0 1461.8,1084.2 1463.6,1083.9 1465.5,1084.5 1467.3,1084.2 1469.1,1084.6 1470.9,1083.8 1472.7,1084.3 1474.5,1084.2 1476.4,1083.6 1478.2,1084.3 1480.0,1084.3 1481.8,1083.6 1483.6,1084.4 1485.5,1084.2 1487.3,1084.0 1489.1,1084.0 1490.9,1083.7 1492.7,1083.5 1494.5,1083.9 1496.4,1084.2 1498.2,1083.6 1500.0,1083.8 1501.8,1083.6 1503.6,1084.0 1505.5,1084.2 1507.3,1084.1 1509.1,1083.6 1510.9,1083.7 1512.7,1080.8 1514.5,1083.9 1516.4,1085.8 1518.2,1085.8 1520.0,1081.1 1521.8,1083.4 1523.6,1081.4 1525.5,1083.6 1527.3,1086.6 1529.1,1083.0 1530.9,1086.5 1532.7,1087.2 1534.5,1086.5 1536.4,1082.9 1538.2,1087.3 1540.0,1087.5 1541.8,1088.1 1543.6,1082.2 1545.5,1082.3 1547.3,1084.2 1549.1,1085.6 1550.9,1085.2 1552.7,1083.3 1554.5,1086.7 1556.4,1087.0 1558.2,1086.9 1560.0,1086.3 1561.8,1086.5 1563.6,1087.3 1565.5,1083.6 1567.3,1085.8 1569.1,1084.0 1570.9,1083.8 1572.7,1087.8 1574.5,1085.1 1576.4,1085.2 1578.2,1084.9 1580.0,1086.7 1581.8,1083.9 1583.6,1087.0 1585.5,1083.6 1587.3,1088.9 1589.1,1084.1 1590.9,1087.8 1592.7,1086.5 1594.5,1085.7 1596.4,1085.0 1598.2,1085.4 1600.0,1087.8 1601.8,1086.3 1603.6,1086.4 1605.5,1084.6 1607.3,1086.9 1609.1,1084.1 1610.9,1086.0 1612.7,1086.9 1614.5,1086.3 1616.4,1086.5 1618.2,1086.4 1620.0,1084.1 1621.8,1088.7 1623.6,1087.0 1625.5,1087.2 1627.3,1088.6 1629.1,1085.5 1630.9,1084.8 1632.7,1084.6 1634.5,1084.7 1636.4,1084.5 1638.2,1084.6 1640.0,1084.0 1641.8,1085.6 1643.6,1084.5 1645.5,1084.9 1647.3,1086.7 1649.1,1084.6 1650.9,1087.9 1652.7,1087.5 1654.5,1084.7 1656.4,1087.7 1658.2,1083.8 1660.0,1083.3 1661.8,1088.7 1663.6,1082.9 1665.5,1082.7 1667.3,1087.9 1669.1,1082.7 1670.9,1086.6 1672.7,1086.0 1674.5,1084.0 1676.4,1084.2 1678.2,1088.5 1680.0,1085.1 1681.8,1084.2 1683.6,1085.3 1685.5,1087.1 1687.3,1084.4 1689.1,1083.2 1690.9,1087.4 1692.7,1083.3 1694.5,1083.0 1696.4,1082.7 1698.2,1088.7 1700.0,1085.3 1701.8,1087.1 1703.6,1086.0 1705.5,1088.5 1707.3,1084.8 1709.1,1084.8 1710.9,1086.8 1712.7,1082.7 1714.5,1084.9 1716.4,1087.3 1718.2,1086.1 1720.0,1085.6 1721.8,1088.3 1723.6,1085.3 1725.5,1087.1 1727.3,1085.1 1729.1,1083.2 1730.9,1085.0 1732.7,1084.0 1734.5,1082.9 1736.4,1084.4 1738.2,1083.5 1740.0,1085.4 1741.8,1087.1 1743.6,1087.2 1745.5,1088.0 1747.3,1084.6 1749.1,1086.7 1750.9,1088.0 1752.7,1085.1 1754.5,1088.2 1756.4,1083.3 1758.2,1088.2 1760.0,1088.0 1761.8,1088.6 1763.6,1087.7 1765.4,1087.0 1767.2,1085.3 1769.0,1087.0 1770.8,1088.0 1772.7,1086.2 1774.5,1086.4 1776.3,1088.2 1778.1,1084.4 1779.9,1084.7 1781.7,1082.9 1783.5,1088.0 1785.3,1086.5 1787.1,1086.7 1788.9,1084.1 1790.7,1083.8 1792.5,1085.6 1794.3,1088.0 1796.2,1084.8 1798.0,1085.2 1799.8,1085.2 1801.6,1087.8 1803.4,1083.4 1805.2,1087.9 1807.0,1085.7"/>
<polyline stroke="#0000ff" stroke-width="7.0" points="312.0,1078.6 314.0,1079.6 316.0,1080.1 318.0,1081.2 320.0,1079.9 321.9,1081.3 323.8,1075.3 325.6,1078.4 327.5,1081.8 329.4,1079.9 331.2,1081.8 333.1,1076.5 335.0,1079.1 336.9,1077.6 338.9,1079.6 340.8,1079.8 342.8,1076.0 344.7,1077.4 346.6,1077.9 348.6,1082.2 350.5,1081.2 352.3,1077.1 354.1,1081.4 355.9,1076.9 357.8,1080.2 359.6,1076.9 361.4,1076.0 363.2,1081.9 365.0,1077.4 366.8,1077.7 368.6,1083.1 370.5,1082.6 372.3,1078.8 374.1,1083.6 375.9,1081.0 377.7,1082.1 379.5,1079.1 381.4,1084.4 383.2,1082.9 385.0,1085.0 386.9,1084.7 388.8,1080.9 390.7,1081.5 392.6,1080.4 394.5,1080.5 396.5,1080.2 398.4,1082.0 400.3,1084.2 402.2,1080.4 404.1,1085.2 406.0,1083.1 407.9,1082.9 409.8,1086.3 411.7,1084.0 413.6,1082.8 415.5,1083.9 417.5,1085.4 419.4,1080.9 421.3,1087.1 423.2,1080.6 425.1,1085.5 427.0,1086.1 428.8,1080.5 430.6,1085.7 432.4,1082.9 434.2,1084.3 436.0,1080.4 437.9,1080.7 439.7,1081.6 441.5,1086.8 443.3,1081.7 445.1,1085.5 446.9,1086.6 448.7,1086.7 450.6,1082.8 452.6,1083.1 454.5,1084.4 456.4,1086.3 458.4,1082.0 460.3,1086.5 462.3,1087.1 464.2,1087.7 466.1,1082.3 468.1,1088.6 470.0,1083.0 471.9,1084.7 473.8,1086.6 475.7,1088.6 477.6,1084.7 479.5,1088.7 481.5,1086.1 483.4,1084.5 485.3,1084.6 487.2,1083.6 489.1,1082.9 491.0,1083.4 493.0,1086.6 495.0,1088.3 497.0,1082.1 499.0,1080.9 501.0,1086.8 503.0,1083.3 505.0,1081.9 507.0,1080.3 509.0,1083.1 511.0,1085.1 513.0,1083.0 515.0,1083.2 516.8,1080.9 518.6,1086.9 520.4,1081.1 522.2,1084.5 524.1,1087.0 525.9,1082.4 527.7,1086.7 529.5,1088.4 531.3,1086.3 533.1,1087.5 535.0,1082.9 536.8,1085.3 538.6,1083.4 540.4,1088.2 542.2,1084.6 544.1,1085.8 545.9,1089.6 547.7,1088.7 549.6,1089.4 551.5,1085.7 553.5,1085.7 555.4,1087.2 557.3,1085.3 559.2,1083.9 561.2,1084.5 563.1,1082.6 565.0,1084.0 566.8,1088.0 568.7,1087.7 570.5,1085.3 572.4,1084.2 574.2,1083.0 576.0,1081.2 577.9,1082.3 579.7,1085.6 581.6,1086.2 583.6,1082.8 585.5,1085.6 587.4,1085.6 589.4,1085.0 591.3,1084.8 593.2,1085.5 595.1,1082.8 597.1,1085.1 599.0,1082.2 600.9,1083.5 602.8,1085.4 604.8,1084.7 606.7,1081.9 608.6,1086.3 610.5,1084.2 612.4,1083.6 614.3,1079.6 616.2,1083.2 618.2,1081.1 620.1,1083.9 622.0,1082.3 623.8,1084.5 625.6,1083.0 627.4,1083.7 629.2,1080.4 631.1,1082.1 632.9,1082.4 634.7,1082.7 636.5,1079.2 638.3,1082.2 640.3,1082.3 642.2,1080.9 644.2,1082.7 646.1,1082.5 648.1,1079.3 650.1,1079.3 652.0,1076.7 654.0,1081.1 656.0,1082.2 657.9,1079.5 659.9,1081.4 661.8,1082.0 663.8,1082.5 665.7,1079.1 667.6,1083.7 669.6,1082.8 671.5,1083.8 673.5,1082.6 675.3,1083.3 677.2,1083.6 679.0,1082.0 680.8,1081.9 682.6,1076.5 684.5,1076.7 686.3,1077.9 688.3,1079.5 690.3,1076.8 692.3,1080.1 694.3,1079.9 696.3,1076.1 698.3,1079.2 700.3,1077.8 702.3,1076.8 704.3,1077.2 706.2,1078.3 708.2,1077.2 710.1,1077.1 712.1,1075.9 714.0,1078.7 716.0,1078.0 718.0,1079.6 720.0,1079.4 722.0,1077.0 724.0,1081.5 726.0,1075.4 728.0,1078.2 730.0,1077.3 732.0,1078.2 734.0,1076.0 736.0,1080.6 738.0,1077.3 740.0,1074.8 742.0,1078.5 744.0,1074.8 746.0,1077.6 748.0,1076.0 749.8,1077.6 751.7,1080.0 753.5,1079.0 755.4,1076.1 757.2,1078.7 759.1,1077.5 760.9,1075.5 762.8,1073.9 764.6,1076.9 766.5,1076.5 768.3,1079.1 770.2,1079.4 772.0,1077.2 773.9,1075.7 775.7,1079.6 777.6,1073.8 779.4,1074.7 781.3,1078.1 783.1,1078.6 785.0,1075.7 786.8,1079.0 788.6,1080.8 790.4,1077.3 792.2,1077.6 794.0,1076.2 795.9,1076.7 797.7,1081.3 799.5,1077.3 801.3,1081.2 803.1,1080.9 804.9,1078.8 806.7,1076.5 808.8,1082.0 810.9,1079.4 812.9,1079.6 815.0,1079.6 816.8,1083.9 818.6,1080.3 820.4,1078.7 822.2,1079.8 824.0,1077.2 825.8,1080.4 827.6,1078.9 829.4,1077.7 831.2,1080.8 833.0,1080.9 834.8,1075.5 836.6,1079.1 838.4,1077.4 840.2,1082.0 842.0,1081.1 843.9,1077.5 845.7,1077.8 847.5,1077.1 849.3,1082.8 851.1,1078.2 852.9,1080.4 854.7,1079.6 856.7,1081.5 858.6,1081.8 860.6,1083.5 862.6,1079.9 864.6,1084.9 866.5,1082.5 868.5,1084.7 870.3,1083.2 872.1,1082.7 874.0,1084.1 875.8,1083.4 877.6,1082.5 879.4,1084.9 881.2,1083.6 883.1,1079.7 884.9,1080.9 886.7,1082.1 888.6,1085.3 890.5,1085.3 892.4,1083.0 894.3,1079.5 896.2,1084.8 898.1,1082.6 900.0,1083.7 901.9,1084.7 903.8,1084.3 905.7,1083.4 907.6,1086.3 909.5,1082.8 911.3,1082.9 913.2,1086.0 915.1,1081.6 917.0,1082.3 918.9,1086.0 920.8,1080.8 922.6,1086.1 924.5,1085.1 926.4,1083.4 928.3,1082.4 930.2,1085.8 932.1,1086.7 933.9,1081.5 935.8,1083.8 937.7,1084.3 939.6,1083.9 941.6,1082.8 943.5,1081.5 945.4,1084.4 947.4,1085.9 949.3,1080.8 951.3,1081.8 953.2,1085.8 955.1,1085.6 957.1,1084.7 959.0,1080.3 960.9,1085.1 962.8,1086.9 964.6,1087.2 966.5,1085.2 968.4,1080.9 970.3,1086.4 972.2,1082.2 974.1,1085.2 975.9,1087.4 977.8,1085.9 979.7,1082.1 981.6,1083.2 983.5,1087.6 985.4,1082.4 987.2,1085.7 989.1,1084.4 991.0,1082.8 992.9,1085.9 994.9,1081.9 996.8,1082.3 998.7,1084.1 1000.7,1081.9 1002.6,1081.8 1004.6,1085.2 1006.5,1086.3 1008.4,1087.2 1010.4,1082.1 1012.3,1084.0 1014.2,1083.1 1016.2,1085.0 1018.1,1084.2 1020.1,1087.1 1022.0,1083.2 1024.0,1080.9 1025.9,1085.2 1027.9,1081.4 1029.8,1084.6 1031.8,1083.6 1033.7,1086.3 1035.6,1084.0 1037.5,1084.6 1039.4,1082.2 1041.3,1084.3 1043.2,1082.4 1045.1,1085.9 1047.0,1084.4 1048.9,1081.9 1050.8,1082.7 1052.7,1083.8 1054.6,1086.4 1056.5,1082.7 1058.4,1086.4 1060.3,1086.2 1062.2,1082.3 1064.2,1086.3 1066.1,1082.5 1068.1,1082.7 1070.0,1086.0 1072.0,1083.6 1073.9,1088.0 1075.9,1085.3 1077.8,1084.3 1079.8,1087.6 1081.7,1082.4 1083.6,1086.8 1085.5,1082.0 1087.4,1082.3 1089.3,1087.5 1091.2,1085.3 1093.1,1081.9 1095.0,1080.9 1097.0,1086.7 1099.0,1084.6 1101.0,1085.7 1103.0,1081.1 1105.0,1084.3 1107.0,1082.5 1109.0,1081.7 1111.0,1082.4 1113.0,1084.8 1115.0,1083.5 1117.0,1084.3 1119.0,1083.1 1121.0,1088.4 1122.8,1086.8 1124.7,1087.6 1126.5,1084.8 1128.3,1087.4 1130.2,1084.8 1132.0,1085.1 1133.8,1084.7 1135.7,1085.5 1137.5,1082.9 1139.3,1080.6 1141.2,1079.9 1143.0,1080.8 1144.9,1079.7 1146.8,1085.5 1148.6,1082.8 1150.5,1084.7 1152.4,1079.6 1154.3,1082.8 1156.2,1085.7 1158.1,1083.9 1159.9,1082.7 1161.8,1083.0 1163.7,1080.5 1165.6,1080.9 1167.5,1081.0 1169.4,1082.5 1171.2,1082.6 1173.1,1086.0 1175.0,1081.1 1176.8,1081.7 1178.6,1081.7 1180.4,1080.8 1182.2,1081.5 1184.0,1081.0 1185.8,1082.5 1187.7,1079.3 1189.5,1085.3 1191.3,1081.3 1193.1,1085.1 1194.9,1083.2 1196.7,1083.0 1198.7,1081.9 1200.7,1085.4 1202.7,1080.0 1204.7,1084.0 1206.7,1081.8 1208.7,1084.6 1210.7,1085.3 1212.7,1081.7 1214.7,1081.9 1216.7,1080.6 1218.7,1082.0 1220.7,1080.9 1222.7,1083.0 1224.7,1086.8 1226.7,1082.6 1228.7,1082.2 1230.6,1083.1 1232.6,1081.7 1234.5,1084.6 1236.4,1084.4 1238.4,1080.4 1240.3,1080.8 1242.3,1083.6 1244.2,1085.3 1246.1,1083.1 1248.1,1081.5 1250.0,1085.0 1252.0,1078.2 1254.0,1078.3 1256.0,1082.9 1258.0,1080.2 1260.0,1077.5 1262.0,1080.6 1264.0,1083.4 1266.0,1079.9 1267.9,1079.1 1269.9,1077.7 1271.8,1077.8 1273.7,1083.8 1275.7,1081.3 1277.6,1084.7 1279.6,1079.0 1281.5,1080.6 1283.4,1079.6 1285.4,1082.3 1287.3,1080.3 1289.1,1081.7 1290.9,1082.8 1292.8,1082.2 1294.6,1080.6 1296.4,1083.2 1298.2,1084.2 1300.0,1083.5 1301.8,1083.9 1303.7,1083.9 1305.5,1084.1 1307.3,1083.7 1309.1,1084.0 1310.9,1083.9 1312.7,1084.4 1314.5,1084.9 1316.4,1084.6 1318.2,1085.0 1320.0,1084.4 1321.8,1084.2 1323.6,1084.7 1325.5,1084.6 1327.3,1084.6 1329.1,1084.4 1330.9,1084.6 1332.7,1084.7 1334.5,1084.9 1336.4,1084.2 1338.2,1084.3 1340.0,1084.7 1341.8,1084.0 1343.6,1083.9 1345.5,1084.1 1347.3,1083.8 1349.1,1084.5 1350.9,1084.5 1352.7,1083.9 1354.5,1083.7 1356.4,1083.6 1358.2,1083.8 1360.0,1083.6 1361.8,1083.9 1363.6,1084.0 1365.5,1083.6 1367.3,1083.4 1369.1,1084.0 1370.9,1083.3 1372.7,1083.5 1374.5,1083.5 1376.4,1083.6 1378.2,1083.3 1380.0,1083.6 1381.8,1083.4 1383.6,1083.8 1385.5,1083.6 1387.3,1083.9 1389.1,1083.6 1390.9,1083.7 1392.7,1083.5 1394.5,1083.3 1396.4,1083.7 1398.2,1083.5 1400.0,1083.8 1401.8,1083.5 1403.6,1083.4 1405.5,1083.0 1407.3,1083.5 1409.1,1083.0 1410.9,1082.7 1412.7,1082.6 1414.5,1082.7 1416.4,1082.7 1418.2,1083.1 1420.0,1082.7 1421.8,1082.4 1423.6,1083.1 1425.5,1082.8 1427.3,1082.3 1429.1,1082.3 1430.9,1082.3 1432.7,1082.5 1434.5,1083.0 1436.4,1083.0 1438.2,1082.7 1440.0,1082.2 1441.8,1082.4 1443.6,1082.3 1445.5,1082.2 1447.3,1081.8 1449.1,1082.4 1450.9,1082.6 1452.7,1082.4 1454.5,1081.7 1456.4,1082.1 1458.2,1081.7 1460.0,1082.2 1461.8,1081.9 1463.6,1082.4 1465.5,1082.2 1467.3,1081.4 1469.1,1081.6 1470.9,1082.2 1472.7,1081.6 1474.5,1081.6 1476.4,1081.5 1478.2,1081.8 1480.0,1081.9 1481.8,1081.5 1483.7,1081.9 1485.5,1081.4 1487.4,1080.9 1489.2,1081.5 1491.1,1081.1 1493.0,1080.6 1494.8,1081.5 1496.7,1080.5 1498.5,1081.0 1500.3,1080.8 1502.2,1081.2 1504.0,1080.6 1505.9,1080.4 1507.8,1080.4 1509.6,1080.2 1511.5,1080.5 1513.3,1079.4 1515.2,1082.1 1517.0,1078.5 1518.9,1079.5 1520.7,1079.0 1522.6,1084.2 1524.4,1083.5 1526.3,1083.8 1528.1,1082.4 1530.0,1081.1 1531.9,1079.7 1533.8,1084.8 1535.7,1082.8 1537.6,1080.1 1539.4,1081.4 1541.3,1081.3 1543.2,1085.8 1545.1,1087.5 1547.0,1083.1 1548.9,1086.6 1550.7,1082.8 1552.6,1084.7 1554.4,1085.4 1556.3,1083.2 1558.1,1083.9 1560.0,1080.5 1561.9,1078.1 1563.9,1081.7 1565.8,1082.3 1567.7,1079.7 1569.7,1081.3 1571.6,1080.9 1573.6,1079.1 1575.5,1081.2 1577.4,1081.8 1579.4,1082.6 1581.3,1084.3 1583.2,1082.3 1585.1,1086.3 1587.0,1085.3 1589.0,1086.1 1590.9,1084.6 1592.8,1084.5 1594.7,1083.7 1596.6,1085.5 1598.5,1082.6 1600.4,1084.3 1602.3,1084.9 1604.3,1083.9 1606.2,1082.4 1608.1,1081.1 1610.0,1081.2 1611.9,1082.7 1613.8,1083.9 1615.7,1084.8 1617.6,1084.2 1619.5,1081.1 1621.4,1085.0 1623.3,1080.2 1625.2,1082.9 1627.1,1078.2 1629.0,1082.5 1630.9,1081.6 1632.8,1083.2 1634.7,1082.5 1636.6,1081.1 1638.6,1082.2 1640.5,1081.6 1642.4,1080.7 1644.4,1078.0 1646.3,1080.2 1648.3,1082.8 1650.2,1078.4 1652.1,1083.4 1654.1,1080.6 1656.0,1079.6 1658.0,1077.0 1660.0,1079.7 1662.0,1078.4 1664.0,1081.7 1666.0,1083.4 1668.0,1083.6 1670.1,1082.4 1672.2,1081.7 1674.4,1080.7 1676.5,1085.5 1678.3,1084.4 1680.2,1085.4 1682.0,1082.9 1683.9,1086.3 1685.7,1081.6 1687.5,1082.1 1689.4,1081.7 1691.2,1084.0 1693.0,1085.7 1694.9,1080.6 1696.7,1083.6 1698.6,1084.4 1700.4,1080.6 1702.2,1079.4 1704.1,1082.6 1705.9,1084.3 1707.8,1084.5 1709.6,1083.4 1711.4,1081.1 1713.2,1081.1 1715.0,1081.7 1716.8,1084.2 1718.6,1080.0 1720.4,1079.7 1722.2,1081.8 1724.0,1084.2 1725.9,1078.8 1727.7,1077.6 1729.5,1078.1 1731.3,1081.0 1733.1,1081.2 1734.9,1078.3 1736.7,1078.2 1738.5,1080.8 1740.3,1081.3 1742.1,1081.8 1743.9,1082.2 1745.7,1077.7 1747.5,1080.8 1749.3,1083.3 1751.1,1084.2 1753.0,1080.0 1754.8,1083.8 1756.6,1082.5 1758.4,1084.5 1760.2,1079.9 1762.0,1083.2 1763.8,1084.4 1765.6,1082.0 1767.4,1079.6 1769.2,1080.2 1771.0,1080.0 1772.8,1079.5 1774.7,1079.9 1776.5,1083.1 1778.3,1079.6 1780.1,1084.1 1781.9,1083.9 1783.7,1084.5 1785.5,1084.4 1787.3,1083.7 1789.2,1085.2 1791.0,1085.4 1792.8,1083.2 1794.6,1085.5 1796.4,1079.6 1798.5,1079.5 1800.6,1079.1 1802.8,1080.0 1804.9,1081.0 1807.0,1081.8"/>
<polyline stroke="#008000" stroke-width="7.0" points="312.0,1071.2 314.0,1071.2 316.0,1068.2 318.0,1066.1 320.5,1064.8 323.0,1070.8 325.0,1069.8 327.0,1072.6 329.0,1070.0 331.0,1073.7 333.0,1070.1 335.0,1074.8 337.0,1074.7 339.0,1072.6 341.0,1074.0 343.0,1075.6 345.0,1072.1 347.0,1075.4 348.8,1077.7 350.7,1073.6 352.5,1078.2 354.3,1077.5 356.2,1079.0 358.0,1075.2 359.8,1073.5 361.7,1079.4 363.5,1079.7 365.3,1077.1 367.2,1074.5 369.0,1075.6 371.0,1079.5 372.9,1077.3 374.9,1083.0 376.9,1080.6 378.8,1077.9 380.8,1082.0 382.7,1080.1 384.7,1085.2 386.7,1084.3 388.6,1080.5 390.6,1080.8 392.6,1080.6 394.6,1080.8 396.5,1081.5 398.5,1073.2 400.6,1076.2 402.7,1078.4 404.8,1076.3 406.8,1078.8 408.9,1075.1 411.0,1081.7 413.0,1079.2 415.0,1076.3 417.0,1081.0 419.0,1078.5 421.0,1077.9 423.0,1080.5 425.0,1078.1 427.0,1079.0 428.8,1084.0 430.6,1082.5 432.4,1076.8 434.2,1082.7 436.0,1076.4 437.9,1078.7 439.7,1083.0 441.5,1080.5 443.3,1077.8 445.1,1078.2 446.9,1078.0 448.7,1075.7 450.6,1082.8 452.6,1075.3 454.5,1078.4 456.4,1081.1 458.4,1078.4 460.3,1083.1 462.3,1077.4 464.2,1083.3 466.1,1082.7 468.1,1081.1 470.0,1082.9 471.9,1079.4 473.8,1082.4 475.7,1082.1 477.6,1079.8 479.5,1079.4 481.5,1081.3 483.4,1078.9 485.3,1076.3 487.2,1081.5 489.1,1077.7 491.0,1079.4 493.0,1081.7 495.0,1076.8 497.0,1075.6 499.0,1076.4 501.0,1080.1 503.0,1078.2 505.0,1077.4 507.0,1078.9 508.9,1082.7 510.8,1077.2 512.7,1078.4 514.6,1082.1 516.5,1079.9 518.4,1077.1 520.3,1078.7 522.2,1078.6 524.1,1075.9 526.0,1077.7 527.8,1077.0 529.6,1080.9 531.4,1076.9 533.2,1079.5 535.0,1081.9 536.8,1081.4 538.6,1076.9 540.4,1078.6 542.2,1076.2 544.0,1076.8 545.8,1077.4 547.6,1079.7 549.4,1080.7 551.2,1075.4 553.0,1073.0 555.1,1077.4 557.3,1075.1 559.4,1075.6 561.6,1082.4 563.7,1077.9 565.7,1082.4 567.7,1079.3 569.7,1083.6 571.7,1082.6 573.7,1075.9 575.7,1076.7 577.7,1082.4 579.7,1079.4 581.8,1077.4 583.8,1079.8 585.9,1079.5 587.9,1076.4 590.0,1075.8 592.0,1073.1 594.0,1075.4 596.0,1073.9 598.0,1078.1 600.0,1078.2 602.0,1074.7 604.0,1078.9 606.0,1074.9 608.0,1074.9 610.0,1079.1 612.0,1077.6 614.0,1081.0 616.0,1078.8 618.0,1079.3 620.0,1074.7 622.0,1080.3 623.8,1074.4 625.7,1078.8 627.5,1081.3 629.3,1081.5 631.2,1081.5 633.0,1078.1 635.1,1078.5 637.3,1077.6 639.4,1070.8 641.3,1077.0 643.2,1076.5 645.1,1072.5 647.0,1075.0 648.9,1072.1 650.8,1070.4 652.7,1073.7 654.6,1068.3 656.5,1073.9 658.4,1075.6 660.4,1070.4 662.3,1076.0 664.2,1069.4 666.1,1075.9 668.1,1071.6 670.0,1077.4 671.8,1072.9 673.6,1076.6 675.4,1069.2 677.2,1069.4 679.1,1075.0 680.9,1073.3 682.7,1072.3 684.5,1068.0 686.3,1068.9 688.3,1070.2 690.2,1067.4 692.2,1074.7 694.1,1072.6 696.1,1073.8 698.0,1071.6 700.0,1068.4 702.1,1065.5 704.3,1070.0 706.4,1064.2 708.6,1066.9 710.7,1065.4 712.6,1065.5 714.6,1062.1 716.5,1062.0 718.5,1065.4 720.4,1061.4 722.4,1065.3 724.3,1062.1 726.2,1063.1 728.2,1061.9 730.1,1065.2 732.1,1063.6 734.0,1062.2 736.0,1062.4 738.0,1065.4 740.0,1068.5 742.0,1064.8 744.0,1063.0 746.0,1064.5 748.0,1064.2 750.0,1067.1 751.8,1068.7 753.7,1067.0 755.5,1063.9 757.3,1064.9 759.1,1065.3 761.0,1065.7 762.8,1065.3 764.6,1070.1 766.5,1066.5 768.3,1067.3 770.3,1067.7 772.2,1067.0 774.2,1068.2 776.1,1064.7 778.1,1067.0 780.0,1069.4 782.0,1062.8 784.0,1066.8 786.0,1065.2 788.0,1063.0 790.0,1063.1 792.0,1069.2 794.0,1064.4 796.0,1069.5 798.1,1064.9 800.3,1067.4 802.4,1065.0 804.6,1069.4 806.7,1071.7 808.6,1067.4 810.6,1070.2 812.5,1073.2 814.4,1068.3 816.4,1069.9 818.3,1072.1 820.3,1073.3 822.2,1067.9 824.1,1072.0 826.1,1067.8 828.0,1067.9 830.1,1075.5 832.3,1068.7 834.4,1076.3 836.6,1075.6 838.7,1075.6 840.7,1076.0 842.6,1075.3 844.6,1072.3 846.6,1073.5 848.6,1071.5 850.5,1076.6 852.5,1075.9 854.3,1076.4 856.2,1072.2 858.0,1075.6 859.8,1073.2 861.6,1077.9 863.5,1077.9 865.3,1080.3 867.3,1078.1 869.3,1078.1 871.3,1079.0 873.3,1073.7 875.3,1077.9 877.3,1073.6 879.3,1076.5 881.3,1074.6 883.3,1081.4 885.3,1074.1 887.3,1081.4 889.3,1081.7 891.3,1077.7 893.3,1081.0 895.3,1074.8 897.3,1075.6 899.4,1074.4 901.5,1074.6 903.6,1073.9 905.7,1080.3 907.5,1074.4 909.4,1078.4 911.2,1075.9 913.0,1074.8 914.8,1077.1 916.7,1075.2 918.5,1081.5 920.3,1076.9 922.2,1078.7 924.0,1078.5 925.8,1079.1 927.7,1078.0 929.5,1076.5 931.4,1075.5 933.2,1081.6 935.0,1076.1 936.9,1078.3 938.7,1081.3 940.5,1079.4 942.4,1082.3 944.2,1081.1 946.1,1078.7 947.9,1075.5 949.8,1079.3 951.6,1078.3 953.5,1081.3 955.3,1078.6 957.2,1079.9 959.0,1080.8 960.8,1077.9 962.7,1080.7 964.5,1081.1 966.4,1075.0 968.2,1080.9 970.1,1080.4 971.9,1080.1 973.8,1075.8 975.6,1075.0 977.5,1073.9 979.3,1075.7 981.2,1079.7 983.0,1075.9 984.9,1073.1 986.8,1075.7 988.6,1074.0 990.5,1078.5 992.4,1079.8 994.2,1081.2 996.1,1074.6 998.0,1077.1 999.8,1075.2 1001.7,1081.6 1003.6,1081.1 1005.6,1078.6 1007.5,1082.2 1009.4,1078.8 1011.4,1081.0 1013.3,1078.7 1015.3,1077.9 1017.2,1083.0 1019.1,1081.9 1021.1,1079.9 1023.0,1082.2 1024.9,1080.3 1026.9,1081.3 1028.8,1075.3 1030.7,1075.6 1032.7,1075.2 1034.6,1079.0 1036.6,1079.7 1038.5,1075.0 1040.4,1077.6 1042.4,1074.3 1044.3,1078.7 1046.3,1079.5 1048.3,1074.0 1050.3,1081.2 1052.3,1078.8 1054.3,1074.5 1056.3,1076.4 1058.3,1074.9 1060.3,1079.5 1062.3,1081.1 1064.3,1075.3 1066.3,1075.4 1068.3,1079.0 1070.3,1081.0 1072.3,1080.1 1074.3,1077.9 1076.3,1075.2 1078.3,1079.3 1080.3,1078.1 1082.3,1080.9 1084.3,1079.1 1086.3,1080.5 1088.3,1082.4 1090.3,1079.7 1092.3,1082.1 1094.4,1077.0 1096.5,1074.8 1098.6,1081.9 1100.7,1075.0 1102.6,1082.7 1104.6,1078.4 1106.5,1075.3 1108.4,1077.0 1110.4,1080.6 1112.3,1077.9 1114.3,1079.8 1116.2,1075.6 1118.1,1081.5 1120.1,1077.8 1122.0,1081.5 1124.0,1076.0 1126.0,1080.3 1128.0,1078.7 1130.0,1078.3 1132.0,1075.3 1134.0,1079.4 1136.0,1081.9 1138.0,1076.1 1139.9,1078.7 1141.9,1075.1 1143.8,1082.8 1145.7,1082.5 1147.7,1080.0 1149.6,1078.3 1151.6,1074.8 1153.5,1075.1 1155.4,1079.6 1157.4,1080.2 1159.3,1081.6 1161.2,1080.5 1163.1,1077.0 1165.0,1075.4 1166.9,1077.6 1168.8,1075.9 1170.7,1077.4 1172.7,1080.0 1174.6,1076.4 1176.5,1080.5 1178.4,1078.3 1180.3,1072.8 1182.2,1078.3 1184.1,1077.5 1186.0,1077.1 1188.0,1072.1 1190.0,1079.0 1192.0,1075.9 1194.0,1076.1 1196.0,1073.1 1198.0,1072.0 1200.0,1071.8 1202.0,1073.3 1204.0,1074.1 1206.0,1073.0 1208.0,1072.4 1209.9,1077.8 1211.9,1077.7 1213.9,1079.3 1215.9,1074.0 1217.7,1078.4 1219.6,1077.6 1221.4,1073.9 1223.2,1080.4 1225.0,1076.6 1226.9,1075.5 1228.7,1075.8 1230.8,1082.0 1232.9,1076.7 1235.1,1078.3 1237.2,1080.0 1239.3,1078.8 1241.3,1080.6 1243.3,1075.4 1245.3,1077.6 1247.2,1078.2 1249.2,1077.9 1251.2,1077.3 1253.2,1074.0 1255.0,1076.4 1256.9,1078.5 1258.7,1074.1 1260.5,1074.8 1262.3,1075.9 1264.2,1070.6 1266.0,1070.2 1268.0,1075.9 1269.9,1070.7 1271.8,1071.8 1273.8,1071.4 1275.8,1076.5 1277.7,1073.0 1279.6,1076.8 1281.5,1071.9 1283.5,1073.9 1285.4,1077.9 1287.3,1076.2 1289.1,1079.0 1290.9,1077.7 1292.8,1074.3 1294.6,1074.5 1296.4,1077.6 1298.2,1077.7 1300.0,1077.2 1301.8,1077.3 1303.7,1077.0 1305.5,1077.3 1307.3,1077.3 1309.1,1077.4 1310.9,1077.7 1312.7,1078.0 1314.5,1077.8 1316.4,1077.8 1318.2,1077.3 1320.0,1077.5 1321.8,1077.7 1323.6,1077.9 1325.5,1077.1 1327.3,1076.8 1329.1,1076.8 1330.9,1077.4 1332.7,1077.8 1334.5,1076.9 1336.4,1077.6 1338.2,1077.4 1340.0,1077.7 1341.8,1077.7 1343.6,1076.7 1345.5,1077.5 1347.3,1076.7 1349.1,1076.7 1350.9,1077.0 1352.7,1077.1 1354.5,1076.6 1356.4,1076.8 1358.2,1076.6 1360.0,1076.6 1361.8,1076.5 1363.6,1076.4 1365.5,1076.6 1367.3,1076.7 1369.1,1076.8 1370.9,1077.1 1372.7,1077.0 1374.5,1076.8 1376.4,1076.6 1378.2,1076.9 1380.0,1076.4 1381.8,1076.3 1383.6,1076.2 1385.5,1076.9 1387.3,1076.2 1389.1,1076.3 1390.9,1076.4 1392.7,1076.7 1394.5,1076.7 1396.4,1076.7 1398.2,1076.6 1400.0,1076.1 1401.8,1077.0 1403.6,1076.7 1405.5,1076.3 1407.3,1076.3 1409.1,1076.5 1410.9,1075.9 1412.7,1076.5 1414.5,1076.8 1416.4,1076.1 1418.2,1076.3 1420.0,1076.0 1421.8,1076.7 1423.6,1076.1 1425.5,1076.0 1427.3,1076.4 1429.1,1076.0 1430.9,1076.6 1432.7,1076.0 1434.5,1076.2 1436.4,1075.8 1438.2,1076.1 1440.0,1076.0 1441.8,1075.5 1443.6,1076.4 1445.4,1075.5 1447.2,1076.0 1449.0,1076.1 1450.8,1075.8 1452.6,1075.7 1454.4,1075.8 1456.2,1076.4 1458.0,1075.2 1459.8,1076.2 1461.6,1075.9 1463.4,1075.7 1465.2,1075.9 1467.0,1075.9 1468.8,1076.1 1470.6,1076.2 1472.4,1075.7 1474.2,1075.4 1476.0,1075.4 1477.8,1076.1 1479.6,1075.5 1481.4,1075.0 1483.2,1075.6 1485.0,1075.0 1486.9,1075.3 1488.8,1075.7 1490.6,1075.6 1492.5,1075.5 1494.4,1075.8 1496.3,1075.6 1498.2,1076.0 1500.1,1075.8 1501.9,1075.1 1503.8,1075.7 1505.7,1075.2 1507.6,1075.9 1509.5,1075.5 1511.4,1075.2 1513.2,1072.7 1515.1,1078.1 1517.0,1074.1 1519.0,1071.4 1520.9,1077.6 1522.8,1071.1 1524.8,1071.4 1526.7,1071.7 1528.5,1077.0 1530.4,1076.7 1532.2,1076.5 1534.1,1080.5 1536.0,1077.2 1537.8,1075.5 1539.7,1082.3 1541.6,1074.9 1543.6,1074.2 1545.5,1075.3 1547.4,1081.0 1549.3,1076.3 1551.3,1075.5 1553.2,1075.4 1555.1,1075.1 1557.1,1077.9 1559.0,1076.7 1560.9,1074.1 1562.8,1073.7 1564.7,1079.0 1566.6,1077.3 1568.4,1077.1 1570.3,1075.0 1572.2,1081.5 1574.1,1078.2 1576.0,1081.6 1578.1,1079.3 1580.3,1078.5 1582.4,1073.2 1584.6,1079.9 1586.7,1078.9 1588.7,1072.8 1590.7,1072.9 1592.7,1077.7 1594.7,1077.7 1596.7,1074.0 1598.7,1080.5 1600.7,1073.4 1602.7,1077.3 1604.6,1076.6 1606.6,1075.4 1608.5,1078.1 1610.4,1076.3 1612.4,1078.9 1614.3,1079.0 1616.3,1072.9 1618.2,1075.5 1620.1,1077.2 1622.1,1075.3 1624.0,1077.7 1626.0,1073.1 1628.0,1073.7 1630.0,1077.0 1632.0,1074.6 1634.0,1074.6 1636.0,1076.2 1638.0,1077.7 1640.0,1078.1 1641.9,1077.6 1643.9,1076.7 1645.8,1076.1 1647.7,1079.5 1649.7,1079.3 1651.6,1079.5 1653.6,1079.7 1655.5,1077.5 1657.4,1073.6 1659.4,1077.5 1661.3,1074.1 1663.3,1074.5 1665.3,1075.5 1667.3,1072.8 1669.3,1076.3 1671.3,1074.6 1673.3,1075.2 1675.3,1077.0 1677.3,1079.8 1679.3,1079.1 1681.2,1076.4 1683.2,1079.7 1685.2,1077.2 1687.1,1076.9 1689.1,1077.3 1691.0,1076.4 1693.0,1075.3 1694.9,1081.8 1696.8,1078.9 1698.7,1079.3 1700.7,1079.0 1702.6,1078.1 1704.5,1079.1 1706.4,1074.2 1708.3,1074.6 1710.2,1078.4 1712.2,1077.8 1714.1,1074.2 1716.0,1075.8 1717.9,1076.5 1719.8,1081.9 1721.7,1080.9 1723.6,1074.5 1725.5,1077.3 1727.4,1077.1 1729.3,1075.4 1731.2,1076.6 1733.1,1082.3 1735.0,1081.7 1736.9,1076.6 1738.8,1080.7 1740.7,1075.5 1742.6,1079.6 1744.5,1075.1 1746.4,1079.4 1748.3,1079.0 1750.2,1082.1 1752.1,1078.7 1754.0,1081.2 1756.0,1075.8 1757.9,1078.8 1759.8,1075.3 1761.7,1074.1 1763.6,1081.3 1765.5,1073.6 1767.4,1076.1 1769.2,1075.9 1771.1,1075.1 1772.9,1080.4 1774.8,1079.7 1776.6,1076.8 1778.5,1078.3 1780.3,1080.6 1782.2,1074.5 1784.0,1079.3 1785.9,1081.0 1787.8,1079.0 1789.8,1078.4 1791.7,1076.2 1793.6,1075.6 1795.5,1075.7 1797.4,1077.2 1799.3,1076.7 1801.2,1080.6 1803.2,1075.7 1805.1,1075.5 1807.0,1078.5"/>
</g>
<rect x="311.5" y="58.5" width="1497.0" height="1034.0" fill="none" stroke="#000" stroke-width="5"/>
<path d="M289,1092.5H311.5M300,998.5H311.5M289,904.5H311.5M300,810.5H311.5M289,716.5H311.5M300,622.5H311.5M289,528.5H311.5M300,434.5H311.5M289,340.5H311.5M300,246.5H311.5M289,152.5H311.5M300,58.5H311.5M364.5,1092.5V1114M495.5,1092.5V1103M627.5,1092.5V1114M758.5,1092.5V1103M889.5,1092.5V1114M1021.5,1092.5V1103M1152.5,1092.5V1114M1283.5,1092.5V1103M1414.5,1092.5V1114M1546.5,1092.5V1103M1677.5,1092.5V1114M1808.5,1092.5V1103" stroke="#000" stroke-width="5" fill="none"/>
<text font-family="Liberation Sans, Arial, sans-serif" style="font-kerning:none;white-space:pre" font-size="46.00" transform="translate(247.56,1106.04) scale(1.0635,1)">0</text>
<text font-family="Liberation Sans, Arial, sans-serif" style="font-kerning:none;white-space:pre" font-size="46.00" transform="translate(193.26,918.04) scale(1.0635,1)">500</text>
<text font-family="Liberation Sans, Arial, sans-serif" style="font-kerning:none;white-space:pre" font-size="46.00" transform="translate(166.35,730.04) scale(1.0635,1)">1000</text>
<text font-family="Liberation Sans, Arial, sans-serif" style="font-kerning:none;white-space:pre" font-size="46.00" transform="translate(166.35,542.04) scale(1.0635,1)">1500</text>
<text font-family="Liberation Sans, Arial, sans-serif" style="font-kerning:none;white-space:pre" font-size="46.00" transform="translate(166.35,354.04) scale(1.0635,1)">2000</text>
<text font-family="Liberation Sans, Arial, sans-serif" style="font-kerning:none;white-space:pre" font-size="46.00" transform="translate(166.35,166.04) scale(1.0635,1)">2500</text>
<text font-family="Liberation Sans, Arial, sans-serif" style="font-kerning:none;white-space:pre" font-size="46.00" transform="translate(310.72,1162.54) scale(1.0635,1)">1100</text>
<text font-family="Liberation Sans, Arial, sans-serif" style="font-kerning:none;white-space:pre" font-size="46.00" transform="translate(573.72,1162.54) scale(1.0635,1)">1200</text>
<text font-family="Liberation Sans, Arial, sans-serif" style="font-kerning:none;white-space:pre" font-size="46.00" transform="translate(835.72,1162.54) scale(1.0635,1)">1300</text>
<text font-family="Liberation Sans, Arial, sans-serif" style="font-kerning:none;white-space:pre" font-size="46.00" transform="translate(1098.72,1162.54) scale(1.0635,1)">1400</text>
<text font-family="Liberation Sans, Arial, sans-serif" style="font-kerning:none;white-space:pre" font-size="46.00" transform="translate(1360.72,1162.54) scale(1.0635,1)">1500</text>
<text font-family="Liberation Sans, Arial, sans-serif" style="font-kerning:none;white-space:pre" font-size="46.00" transform="translate(1623.72,1162.54) scale(1.0635,1)">1600</text>
<text font-family="Liberation Sans, Arial, sans-serif" style="font-kerning:none;white-space:pre" font-size="54.89" transform="translate(845.00,1248.47) scale(1.0763,1)">wavelength [nm]</text>
<text font-family="Liberation Sans, Arial, sans-serif" style="font-kerning:none;white-space:pre" font-size="64.68" transform="translate(92.00,763.42) rotate(-90) scale(1.0194,1)">intensity [a.u.]</text>
<path d="M1106,76H1754V522H1106ZM1109,79V520H1751V79Z" fill="#000" fill-rule="evenodd"/>
<line x1="1131" y1="112.4" x2="1254" y2="112.4" stroke="#000080" stroke-width="6" stroke-linecap="round"/>
<text font-family="Liberation Sans, Arial, sans-serif" style="font-kerning:none;white-space:pre" font-size="51.35" transform="translate(1270.60,130.09) scale(1.0703,1)">10 ZnO - 650C 5h</text>
<line x1="1131" y1="175.7" x2="1254" y2="175.7" stroke="#ff00ff" stroke-width="6" stroke-linecap="round"/>
<text font-family="Liberation Sans, Arial, sans-serif" style="font-kerning:none;white-space:pre" font-size="51.35" transform="translate(1270.60,193.35) scale(1.0703,1)">15 ZnO  -650C 5h</text>
<line x1="1131" y1="238.9" x2="1254" y2="238.9" stroke="#ff0000" stroke-width="6" stroke-linecap="round"/>
<text font-family="Liberation Sans, Arial, sans-serif" style="font-kerning:none;white-space:pre" font-size="51.35" transform="translate(1270.60,256.61) scale(1.0703,1)">20 ZnO - 650C 5h</text>
<line x1="1131" y1="302.2" x2="1254" y2="302.2" stroke="#000000" stroke-width="6" stroke-linecap="round"/>
<text font-family="Liberation Sans, Arial, sans-serif" style="font-kerning:none;white-space:pre" font-size="51.35" transform="translate(1270.60,319.87) scale(1.0703,1)">20 ZnO - as melted</text>
<line x1="1131" y1="365.4" x2="1254" y2="365.4" stroke="#0000ff" stroke-width="6" stroke-linecap="round"/>
<text font-family="Liberation Sans, Arial, sans-serif" style="font-kerning:none;white-space:pre" font-size="51.35" transform="translate(1270.60,383.13) scale(1.0703,1)">15 ZnO - as melted</text>
<line x1="1131" y1="428.7" x2="1254" y2="428.7" stroke="#008000" stroke-width="6" stroke-linecap="round"/>
<text font-family="Liberation Sans, Arial, sans-serif" style="font-kerning:none;white-space:pre" font-size="51.35" transform="translate(1270.60,446.39) scale(1.0703,1)">10 ZnO - as melted</text>
</svg>
</body></html>
